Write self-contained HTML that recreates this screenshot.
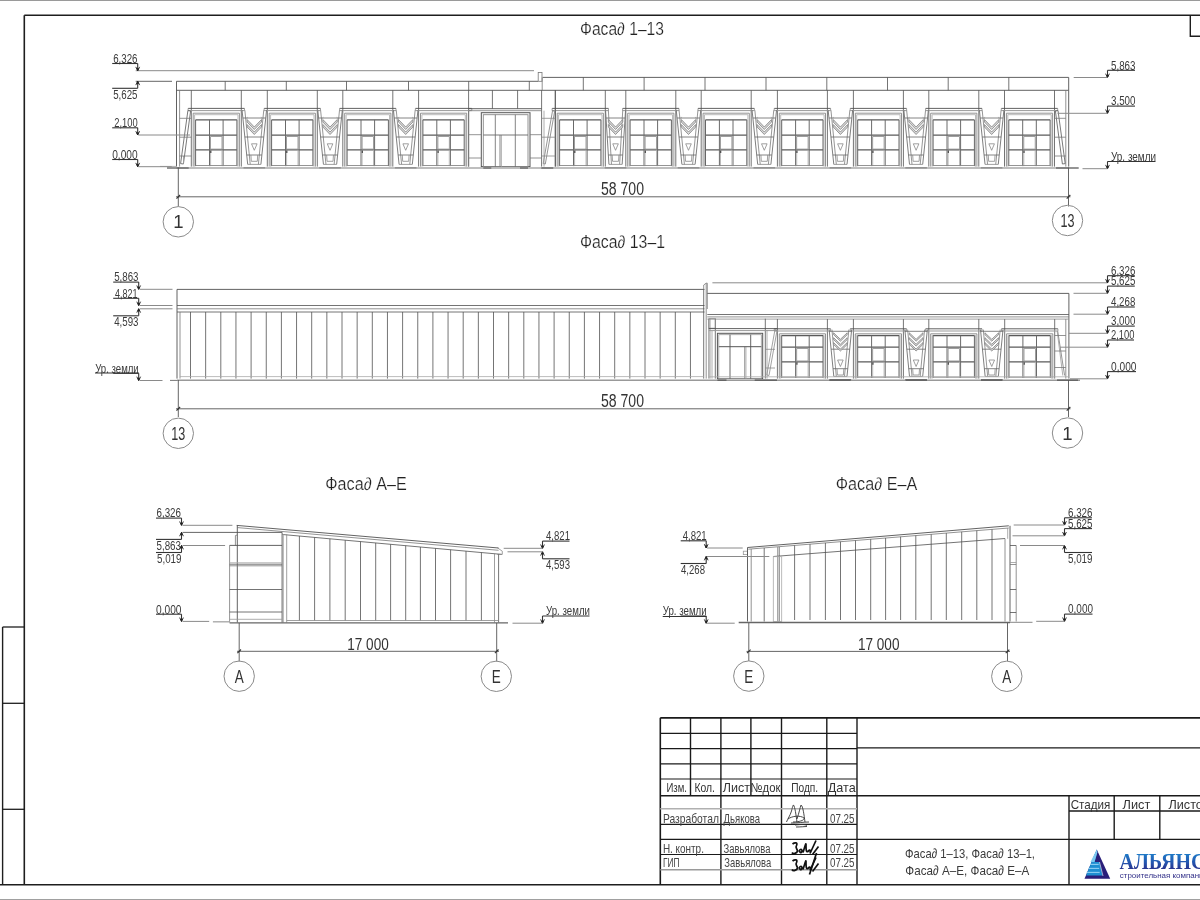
<!DOCTYPE html>
<html><head><meta charset="utf-8"><style>
html,body{margin:0;padding:0;background:#fff;width:1200px;height:900px;overflow:hidden}
svg{display:block;will-change:transform}
text{font-family:"Liberation Sans",sans-serif;}
.logo{font-family:"Liberation Serif",serif;stroke:none}
.logo2{stroke:none}
.thin{stroke:#fff;stroke-width:0.22px;paint-order:normal}
</style></head><body>
<svg width="1200" height="900" viewBox="0 0 1200 900">
<line x1="0.00" y1="0.50" x2="1200.00" y2="0.50" stroke="#9a9a9a" stroke-width="1.2"/>
<line x1="0.00" y1="899.50" x2="1200.00" y2="899.50" stroke="#a0a0a0" stroke-width="1.0"/>
<line x1="24.30" y1="15.30" x2="1200.00" y2="15.30" stroke="#1e1e1e" stroke-width="1.6"/>
<line x1="24.30" y1="15.30" x2="24.30" y2="884.70" stroke="#1e1e1e" stroke-width="1.6"/>
<line x1="0.00" y1="884.70" x2="1200.00" y2="884.70" stroke="#1e1e1e" stroke-width="1.6"/>
<polyline points="1190.30,15.30 1190.30,36.20 1200.00,36.20" fill="none" stroke="#1e1e1e" stroke-width="1.4"/>
<line x1="2.60" y1="627.00" x2="2.60" y2="884.70" stroke="#1e1e1e" stroke-width="1.4"/>
<line x1="2.60" y1="627.00" x2="24.30" y2="627.00" stroke="#1e1e1e" stroke-width="1.3"/>
<line x1="2.60" y1="703.30" x2="24.30" y2="703.30" stroke="#1e1e1e" stroke-width="1.3"/>
<line x1="2.60" y1="809.30" x2="24.30" y2="809.30" stroke="#1e1e1e" stroke-width="1.3"/>
<text x="622.00" y="35.00" font-size="17.5" fill="#222" text-anchor="middle" textLength="84.00" lengthAdjust="spacingAndGlyphs" class="thin">Фаса∂ 1–13</text>
<line x1="135.70" y1="70.70" x2="534.00" y2="70.70" stroke="#8a8a8a" stroke-width="1.0"/>
<line x1="135.70" y1="81.30" x2="172.00" y2="81.30" stroke="#555" stroke-width="0.9"/>
<line x1="176.50" y1="81.30" x2="538.00" y2="81.30" stroke="#505050" stroke-width="0.9"/>
<line x1="176.50" y1="90.30" x2="1068.70" y2="90.30" stroke="#505050" stroke-width="0.9"/>
<line x1="176.50" y1="81.30" x2="176.50" y2="166.60" stroke="#505050" stroke-width="0.9"/>
<line x1="542.60" y1="77.40" x2="1068.70" y2="77.40" stroke="#505050" stroke-width="0.9"/>
<line x1="1068.70" y1="77.40" x2="1068.70" y2="90.30" stroke="#505050" stroke-width="0.9"/>
<rect x="538.20" y="72.50" width="3.80" height="8.80" fill="none" stroke="#777" stroke-width="0.8"/>
<line x1="542.20" y1="77.40" x2="542.20" y2="90.30" stroke="#777" stroke-width="0.8"/>
<line x1="225.20" y1="81.30" x2="225.20" y2="90.30" stroke="#505050" stroke-width="0.8"/>
<line x1="286.30" y1="81.30" x2="286.30" y2="90.30" stroke="#505050" stroke-width="0.8"/>
<line x1="346.50" y1="81.30" x2="346.50" y2="90.30" stroke="#505050" stroke-width="0.8"/>
<line x1="408.50" y1="81.30" x2="408.50" y2="90.30" stroke="#505050" stroke-width="0.8"/>
<line x1="468.70" y1="81.30" x2="468.70" y2="90.30" stroke="#505050" stroke-width="0.8"/>
<line x1="529.30" y1="81.30" x2="529.30" y2="90.30" stroke="#505050" stroke-width="0.8"/>
<line x1="583.30" y1="77.40" x2="583.30" y2="90.30" stroke="#505050" stroke-width="0.8"/>
<line x1="644.10" y1="77.40" x2="644.10" y2="90.30" stroke="#505050" stroke-width="0.8"/>
<line x1="705.00" y1="77.40" x2="705.00" y2="90.30" stroke="#505050" stroke-width="0.8"/>
<line x1="766.00" y1="77.40" x2="766.00" y2="90.30" stroke="#505050" stroke-width="0.8"/>
<line x1="826.80" y1="77.40" x2="826.80" y2="90.30" stroke="#505050" stroke-width="0.8"/>
<line x1="887.50" y1="77.40" x2="887.50" y2="90.30" stroke="#505050" stroke-width="0.8"/>
<line x1="948.20" y1="77.40" x2="948.20" y2="90.30" stroke="#505050" stroke-width="0.8"/>
<line x1="1008.80" y1="77.40" x2="1008.80" y2="90.30" stroke="#505050" stroke-width="0.8"/>
<line x1="179.60" y1="90.30" x2="179.60" y2="166.60" stroke="#777" stroke-width="0.8"/>
<line x1="1065.80" y1="90.30" x2="1065.80" y2="166.60" stroke="#777" stroke-width="0.8"/>
<line x1="1068.70" y1="90.30" x2="1068.70" y2="166.60" stroke="#505050" stroke-width="0.9"/>
<line x1="191.30" y1="90.30" x2="191.30" y2="166.60" stroke="#505050" stroke-width="0.8"/>
<line x1="241.30" y1="90.30" x2="241.30" y2="166.60" stroke="#505050" stroke-width="0.8"/>
<line x1="188.10" y1="108.40" x2="244.50" y2="108.40" stroke="#505050" stroke-width="0.9"/>
<line x1="188.10" y1="108.40" x2="188.10" y2="110.60" stroke="#888" stroke-width="0.8"/>
<line x1="244.50" y1="108.40" x2="244.50" y2="110.60" stroke="#888" stroke-width="0.8"/>
<line x1="188.10" y1="110.60" x2="244.50" y2="110.60" stroke="#999" stroke-width="1.0"/>
<polyline points="193.20,166.60 193.20,113.20 239.40,113.20 239.40,166.60" fill="none" stroke="#888" stroke-width="0.9"/>
<polyline points="194.60,166.60 194.60,114.70 238.00,114.70 238.00,166.60" fill="none" stroke="#aaa" stroke-width="0.8"/>
<line x1="195.60" y1="119.80" x2="236.90" y2="119.80" stroke="#5a5a5a" stroke-width="1.25"/>
<line x1="195.60" y1="135.00" x2="236.90" y2="135.00" stroke="#5a5a5a" stroke-width="1.25"/>
<line x1="195.60" y1="149.90" x2="236.90" y2="149.90" stroke="#5a5a5a" stroke-width="1.25"/>
<line x1="195.60" y1="119.80" x2="195.60" y2="166.10" stroke="#666" stroke-width="1.0"/>
<line x1="236.90" y1="119.80" x2="236.90" y2="166.10" stroke="#666" stroke-width="1.0"/>
<line x1="209.50" y1="119.80" x2="209.50" y2="166.10" stroke="#6a6a6a" stroke-width="1.0"/>
<line x1="223.10" y1="119.80" x2="223.10" y2="166.10" stroke="#6a6a6a" stroke-width="1.0"/>
<rect x="210.60" y="136.60" width="11.40" height="12.50" fill="none" stroke="#888" stroke-width="0.8"/>
<line x1="210.60" y1="149.90" x2="210.60" y2="166.10" stroke="#aaa" stroke-width="0.8"/>
<line x1="222.00" y1="149.90" x2="222.00" y2="166.10" stroke="#aaa" stroke-width="0.8"/>
<line x1="195.60" y1="165.50" x2="236.90" y2="165.50" stroke="#888" stroke-width="0.9"/>
<line x1="210.80" y1="150.40" x2="210.80" y2="152.90" stroke="#444" stroke-width="1.2"/>
<line x1="267.30" y1="90.30" x2="267.30" y2="166.60" stroke="#505050" stroke-width="0.8"/>
<line x1="317.30" y1="90.30" x2="317.30" y2="166.60" stroke="#505050" stroke-width="0.8"/>
<line x1="264.10" y1="108.40" x2="320.50" y2="108.40" stroke="#505050" stroke-width="0.9"/>
<line x1="264.10" y1="108.40" x2="264.10" y2="110.60" stroke="#888" stroke-width="0.8"/>
<line x1="320.50" y1="108.40" x2="320.50" y2="110.60" stroke="#888" stroke-width="0.8"/>
<line x1="264.10" y1="110.60" x2="320.50" y2="110.60" stroke="#999" stroke-width="1.0"/>
<polyline points="269.20,166.60 269.20,113.20 315.40,113.20 315.40,166.60" fill="none" stroke="#888" stroke-width="0.9"/>
<polyline points="270.60,166.60 270.60,114.70 314.00,114.70 314.00,166.60" fill="none" stroke="#aaa" stroke-width="0.8"/>
<line x1="271.60" y1="119.80" x2="312.90" y2="119.80" stroke="#5a5a5a" stroke-width="1.25"/>
<line x1="271.60" y1="135.00" x2="312.90" y2="135.00" stroke="#5a5a5a" stroke-width="1.25"/>
<line x1="271.60" y1="149.90" x2="312.90" y2="149.90" stroke="#5a5a5a" stroke-width="1.25"/>
<line x1="271.60" y1="119.80" x2="271.60" y2="166.10" stroke="#666" stroke-width="1.0"/>
<line x1="312.90" y1="119.80" x2="312.90" y2="166.10" stroke="#666" stroke-width="1.0"/>
<line x1="285.50" y1="119.80" x2="285.50" y2="166.10" stroke="#6a6a6a" stroke-width="1.0"/>
<line x1="299.10" y1="119.80" x2="299.10" y2="166.10" stroke="#6a6a6a" stroke-width="1.0"/>
<rect x="286.60" y="136.60" width="11.40" height="12.50" fill="none" stroke="#888" stroke-width="0.8"/>
<line x1="286.60" y1="149.90" x2="286.60" y2="166.10" stroke="#aaa" stroke-width="0.8"/>
<line x1="298.00" y1="149.90" x2="298.00" y2="166.10" stroke="#aaa" stroke-width="0.8"/>
<line x1="271.60" y1="165.50" x2="312.90" y2="165.50" stroke="#888" stroke-width="0.9"/>
<line x1="286.80" y1="150.40" x2="286.80" y2="152.90" stroke="#444" stroke-width="1.2"/>
<line x1="342.80" y1="90.30" x2="342.80" y2="166.60" stroke="#505050" stroke-width="0.8"/>
<line x1="392.80" y1="90.30" x2="392.80" y2="166.60" stroke="#505050" stroke-width="0.8"/>
<line x1="339.60" y1="108.40" x2="396.00" y2="108.40" stroke="#505050" stroke-width="0.9"/>
<line x1="339.60" y1="108.40" x2="339.60" y2="110.60" stroke="#888" stroke-width="0.8"/>
<line x1="396.00" y1="108.40" x2="396.00" y2="110.60" stroke="#888" stroke-width="0.8"/>
<line x1="339.60" y1="110.60" x2="396.00" y2="110.60" stroke="#999" stroke-width="1.0"/>
<polyline points="344.70,166.60 344.70,113.20 390.90,113.20 390.90,166.60" fill="none" stroke="#888" stroke-width="0.9"/>
<polyline points="346.10,166.60 346.10,114.70 389.50,114.70 389.50,166.60" fill="none" stroke="#aaa" stroke-width="0.8"/>
<line x1="347.10" y1="119.80" x2="388.40" y2="119.80" stroke="#5a5a5a" stroke-width="1.25"/>
<line x1="347.10" y1="135.00" x2="388.40" y2="135.00" stroke="#5a5a5a" stroke-width="1.25"/>
<line x1="347.10" y1="149.90" x2="388.40" y2="149.90" stroke="#5a5a5a" stroke-width="1.25"/>
<line x1="347.10" y1="119.80" x2="347.10" y2="166.10" stroke="#666" stroke-width="1.0"/>
<line x1="388.40" y1="119.80" x2="388.40" y2="166.10" stroke="#666" stroke-width="1.0"/>
<line x1="361.00" y1="119.80" x2="361.00" y2="166.10" stroke="#6a6a6a" stroke-width="1.0"/>
<line x1="374.60" y1="119.80" x2="374.60" y2="166.10" stroke="#6a6a6a" stroke-width="1.0"/>
<rect x="362.10" y="136.60" width="11.40" height="12.50" fill="none" stroke="#888" stroke-width="0.8"/>
<line x1="362.10" y1="149.90" x2="362.10" y2="166.10" stroke="#aaa" stroke-width="0.8"/>
<line x1="373.50" y1="149.90" x2="373.50" y2="166.10" stroke="#aaa" stroke-width="0.8"/>
<line x1="347.10" y1="165.50" x2="388.40" y2="165.50" stroke="#888" stroke-width="0.9"/>
<line x1="362.30" y1="150.40" x2="362.30" y2="152.90" stroke="#444" stroke-width="1.2"/>
<line x1="418.60" y1="90.30" x2="418.60" y2="166.60" stroke="#505050" stroke-width="0.8"/>
<line x1="468.60" y1="90.30" x2="468.60" y2="166.60" stroke="#505050" stroke-width="0.8"/>
<line x1="415.40" y1="108.40" x2="471.80" y2="108.40" stroke="#505050" stroke-width="0.9"/>
<line x1="415.40" y1="108.40" x2="415.40" y2="110.60" stroke="#888" stroke-width="0.8"/>
<line x1="471.80" y1="108.40" x2="471.80" y2="110.60" stroke="#888" stroke-width="0.8"/>
<line x1="415.40" y1="110.60" x2="471.80" y2="110.60" stroke="#999" stroke-width="1.0"/>
<polyline points="420.50,166.60 420.50,113.20 466.70,113.20 466.70,166.60" fill="none" stroke="#888" stroke-width="0.9"/>
<polyline points="421.90,166.60 421.90,114.70 465.30,114.70 465.30,166.60" fill="none" stroke="#aaa" stroke-width="0.8"/>
<line x1="422.90" y1="119.80" x2="464.20" y2="119.80" stroke="#5a5a5a" stroke-width="1.25"/>
<line x1="422.90" y1="135.00" x2="464.20" y2="135.00" stroke="#5a5a5a" stroke-width="1.25"/>
<line x1="422.90" y1="149.90" x2="464.20" y2="149.90" stroke="#5a5a5a" stroke-width="1.25"/>
<line x1="422.90" y1="119.80" x2="422.90" y2="166.10" stroke="#666" stroke-width="1.0"/>
<line x1="464.20" y1="119.80" x2="464.20" y2="166.10" stroke="#666" stroke-width="1.0"/>
<line x1="436.80" y1="119.80" x2="436.80" y2="166.10" stroke="#6a6a6a" stroke-width="1.0"/>
<line x1="450.40" y1="119.80" x2="450.40" y2="166.10" stroke="#6a6a6a" stroke-width="1.0"/>
<rect x="437.90" y="136.60" width="11.40" height="12.50" fill="none" stroke="#888" stroke-width="0.8"/>
<line x1="437.90" y1="149.90" x2="437.90" y2="166.10" stroke="#aaa" stroke-width="0.8"/>
<line x1="449.30" y1="149.90" x2="449.30" y2="166.10" stroke="#aaa" stroke-width="0.8"/>
<line x1="422.90" y1="165.50" x2="464.20" y2="165.50" stroke="#888" stroke-width="0.9"/>
<line x1="438.10" y1="150.40" x2="438.10" y2="152.90" stroke="#444" stroke-width="1.2"/>
<line x1="555.30" y1="90.30" x2="555.30" y2="166.60" stroke="#505050" stroke-width="0.8"/>
<line x1="605.30" y1="90.30" x2="605.30" y2="166.60" stroke="#505050" stroke-width="0.8"/>
<line x1="552.10" y1="108.40" x2="608.50" y2="108.40" stroke="#505050" stroke-width="0.9"/>
<line x1="552.10" y1="108.40" x2="552.10" y2="110.60" stroke="#888" stroke-width="0.8"/>
<line x1="608.50" y1="108.40" x2="608.50" y2="110.60" stroke="#888" stroke-width="0.8"/>
<line x1="552.10" y1="110.60" x2="608.50" y2="110.60" stroke="#999" stroke-width="1.0"/>
<polyline points="557.20,166.60 557.20,113.20 603.40,113.20 603.40,166.60" fill="none" stroke="#888" stroke-width="0.9"/>
<polyline points="558.60,166.60 558.60,114.70 602.00,114.70 602.00,166.60" fill="none" stroke="#aaa" stroke-width="0.8"/>
<line x1="559.60" y1="119.80" x2="600.90" y2="119.80" stroke="#5a5a5a" stroke-width="1.25"/>
<line x1="559.60" y1="135.00" x2="600.90" y2="135.00" stroke="#5a5a5a" stroke-width="1.25"/>
<line x1="559.60" y1="149.90" x2="600.90" y2="149.90" stroke="#5a5a5a" stroke-width="1.25"/>
<line x1="559.60" y1="119.80" x2="559.60" y2="166.10" stroke="#666" stroke-width="1.0"/>
<line x1="600.90" y1="119.80" x2="600.90" y2="166.10" stroke="#666" stroke-width="1.0"/>
<line x1="573.50" y1="119.80" x2="573.50" y2="166.10" stroke="#6a6a6a" stroke-width="1.0"/>
<line x1="587.10" y1="119.80" x2="587.10" y2="166.10" stroke="#6a6a6a" stroke-width="1.0"/>
<rect x="574.60" y="136.60" width="11.40" height="12.50" fill="none" stroke="#888" stroke-width="0.8"/>
<line x1="574.60" y1="149.90" x2="574.60" y2="166.10" stroke="#aaa" stroke-width="0.8"/>
<line x1="586.00" y1="149.90" x2="586.00" y2="166.10" stroke="#aaa" stroke-width="0.8"/>
<line x1="559.60" y1="165.50" x2="600.90" y2="165.50" stroke="#888" stroke-width="0.9"/>
<line x1="574.80" y1="150.40" x2="574.80" y2="152.90" stroke="#444" stroke-width="1.2"/>
<line x1="625.80" y1="90.30" x2="625.80" y2="166.60" stroke="#505050" stroke-width="0.8"/>
<line x1="675.80" y1="90.30" x2="675.80" y2="166.60" stroke="#505050" stroke-width="0.8"/>
<line x1="622.60" y1="108.40" x2="679.00" y2="108.40" stroke="#505050" stroke-width="0.9"/>
<line x1="622.60" y1="108.40" x2="622.60" y2="110.60" stroke="#888" stroke-width="0.8"/>
<line x1="679.00" y1="108.40" x2="679.00" y2="110.60" stroke="#888" stroke-width="0.8"/>
<line x1="622.60" y1="110.60" x2="679.00" y2="110.60" stroke="#999" stroke-width="1.0"/>
<polyline points="627.70,166.60 627.70,113.20 673.90,113.20 673.90,166.60" fill="none" stroke="#888" stroke-width="0.9"/>
<polyline points="629.10,166.60 629.10,114.70 672.50,114.70 672.50,166.60" fill="none" stroke="#aaa" stroke-width="0.8"/>
<line x1="630.10" y1="119.80" x2="671.40" y2="119.80" stroke="#5a5a5a" stroke-width="1.25"/>
<line x1="630.10" y1="135.00" x2="671.40" y2="135.00" stroke="#5a5a5a" stroke-width="1.25"/>
<line x1="630.10" y1="149.90" x2="671.40" y2="149.90" stroke="#5a5a5a" stroke-width="1.25"/>
<line x1="630.10" y1="119.80" x2="630.10" y2="166.10" stroke="#666" stroke-width="1.0"/>
<line x1="671.40" y1="119.80" x2="671.40" y2="166.10" stroke="#666" stroke-width="1.0"/>
<line x1="644.00" y1="119.80" x2="644.00" y2="166.10" stroke="#6a6a6a" stroke-width="1.0"/>
<line x1="657.60" y1="119.80" x2="657.60" y2="166.10" stroke="#6a6a6a" stroke-width="1.0"/>
<rect x="645.10" y="136.60" width="11.40" height="12.50" fill="none" stroke="#888" stroke-width="0.8"/>
<line x1="645.10" y1="149.90" x2="645.10" y2="166.10" stroke="#aaa" stroke-width="0.8"/>
<line x1="656.50" y1="149.90" x2="656.50" y2="166.10" stroke="#aaa" stroke-width="0.8"/>
<line x1="630.10" y1="165.50" x2="671.40" y2="165.50" stroke="#888" stroke-width="0.9"/>
<line x1="645.30" y1="150.40" x2="645.30" y2="152.90" stroke="#444" stroke-width="1.2"/>
<line x1="701.20" y1="90.30" x2="701.20" y2="166.60" stroke="#505050" stroke-width="0.8"/>
<line x1="751.20" y1="90.30" x2="751.20" y2="166.60" stroke="#505050" stroke-width="0.8"/>
<line x1="698.00" y1="108.40" x2="754.40" y2="108.40" stroke="#505050" stroke-width="0.9"/>
<line x1="698.00" y1="108.40" x2="698.00" y2="110.60" stroke="#888" stroke-width="0.8"/>
<line x1="754.40" y1="108.40" x2="754.40" y2="110.60" stroke="#888" stroke-width="0.8"/>
<line x1="698.00" y1="110.60" x2="754.40" y2="110.60" stroke="#999" stroke-width="1.0"/>
<polyline points="703.10,166.60 703.10,113.20 749.30,113.20 749.30,166.60" fill="none" stroke="#888" stroke-width="0.9"/>
<polyline points="704.50,166.60 704.50,114.70 747.90,114.70 747.90,166.60" fill="none" stroke="#aaa" stroke-width="0.8"/>
<line x1="705.50" y1="119.80" x2="746.80" y2="119.80" stroke="#5a5a5a" stroke-width="1.25"/>
<line x1="705.50" y1="135.00" x2="746.80" y2="135.00" stroke="#5a5a5a" stroke-width="1.25"/>
<line x1="705.50" y1="149.90" x2="746.80" y2="149.90" stroke="#5a5a5a" stroke-width="1.25"/>
<line x1="705.50" y1="119.80" x2="705.50" y2="166.10" stroke="#666" stroke-width="1.0"/>
<line x1="746.80" y1="119.80" x2="746.80" y2="166.10" stroke="#666" stroke-width="1.0"/>
<line x1="719.40" y1="119.80" x2="719.40" y2="166.10" stroke="#6a6a6a" stroke-width="1.0"/>
<line x1="733.00" y1="119.80" x2="733.00" y2="166.10" stroke="#6a6a6a" stroke-width="1.0"/>
<rect x="720.50" y="136.60" width="11.40" height="12.50" fill="none" stroke="#888" stroke-width="0.8"/>
<line x1="720.50" y1="149.90" x2="720.50" y2="166.10" stroke="#aaa" stroke-width="0.8"/>
<line x1="731.90" y1="149.90" x2="731.90" y2="166.10" stroke="#aaa" stroke-width="0.8"/>
<line x1="705.50" y1="165.50" x2="746.80" y2="165.50" stroke="#888" stroke-width="0.9"/>
<line x1="720.70" y1="150.40" x2="720.70" y2="152.90" stroke="#444" stroke-width="1.2"/>
<line x1="777.40" y1="90.30" x2="777.40" y2="166.60" stroke="#505050" stroke-width="0.8"/>
<line x1="827.40" y1="90.30" x2="827.40" y2="166.60" stroke="#505050" stroke-width="0.8"/>
<line x1="774.20" y1="108.40" x2="830.60" y2="108.40" stroke="#505050" stroke-width="0.9"/>
<line x1="774.20" y1="108.40" x2="774.20" y2="110.60" stroke="#888" stroke-width="0.8"/>
<line x1="830.60" y1="108.40" x2="830.60" y2="110.60" stroke="#888" stroke-width="0.8"/>
<line x1="774.20" y1="110.60" x2="830.60" y2="110.60" stroke="#999" stroke-width="1.0"/>
<polyline points="779.30,166.60 779.30,113.20 825.50,113.20 825.50,166.60" fill="none" stroke="#888" stroke-width="0.9"/>
<polyline points="780.70,166.60 780.70,114.70 824.10,114.70 824.10,166.60" fill="none" stroke="#aaa" stroke-width="0.8"/>
<line x1="781.70" y1="119.80" x2="823.00" y2="119.80" stroke="#5a5a5a" stroke-width="1.25"/>
<line x1="781.70" y1="135.00" x2="823.00" y2="135.00" stroke="#5a5a5a" stroke-width="1.25"/>
<line x1="781.70" y1="149.90" x2="823.00" y2="149.90" stroke="#5a5a5a" stroke-width="1.25"/>
<line x1="781.70" y1="119.80" x2="781.70" y2="166.10" stroke="#666" stroke-width="1.0"/>
<line x1="823.00" y1="119.80" x2="823.00" y2="166.10" stroke="#666" stroke-width="1.0"/>
<line x1="795.60" y1="119.80" x2="795.60" y2="166.10" stroke="#6a6a6a" stroke-width="1.0"/>
<line x1="809.20" y1="119.80" x2="809.20" y2="166.10" stroke="#6a6a6a" stroke-width="1.0"/>
<rect x="796.70" y="136.60" width="11.40" height="12.50" fill="none" stroke="#888" stroke-width="0.8"/>
<line x1="796.70" y1="149.90" x2="796.70" y2="166.10" stroke="#aaa" stroke-width="0.8"/>
<line x1="808.10" y1="149.90" x2="808.10" y2="166.10" stroke="#aaa" stroke-width="0.8"/>
<line x1="781.70" y1="165.50" x2="823.00" y2="165.50" stroke="#888" stroke-width="0.9"/>
<line x1="796.90" y1="150.40" x2="796.90" y2="152.90" stroke="#444" stroke-width="1.2"/>
<line x1="853.40" y1="90.30" x2="853.40" y2="166.60" stroke="#505050" stroke-width="0.8"/>
<line x1="903.40" y1="90.30" x2="903.40" y2="166.60" stroke="#505050" stroke-width="0.8"/>
<line x1="850.20" y1="108.40" x2="906.60" y2="108.40" stroke="#505050" stroke-width="0.9"/>
<line x1="850.20" y1="108.40" x2="850.20" y2="110.60" stroke="#888" stroke-width="0.8"/>
<line x1="906.60" y1="108.40" x2="906.60" y2="110.60" stroke="#888" stroke-width="0.8"/>
<line x1="850.20" y1="110.60" x2="906.60" y2="110.60" stroke="#999" stroke-width="1.0"/>
<polyline points="855.30,166.60 855.30,113.20 901.50,113.20 901.50,166.60" fill="none" stroke="#888" stroke-width="0.9"/>
<polyline points="856.70,166.60 856.70,114.70 900.10,114.70 900.10,166.60" fill="none" stroke="#aaa" stroke-width="0.8"/>
<line x1="857.70" y1="119.80" x2="899.00" y2="119.80" stroke="#5a5a5a" stroke-width="1.25"/>
<line x1="857.70" y1="135.00" x2="899.00" y2="135.00" stroke="#5a5a5a" stroke-width="1.25"/>
<line x1="857.70" y1="149.90" x2="899.00" y2="149.90" stroke="#5a5a5a" stroke-width="1.25"/>
<line x1="857.70" y1="119.80" x2="857.70" y2="166.10" stroke="#666" stroke-width="1.0"/>
<line x1="899.00" y1="119.80" x2="899.00" y2="166.10" stroke="#666" stroke-width="1.0"/>
<line x1="871.60" y1="119.80" x2="871.60" y2="166.10" stroke="#6a6a6a" stroke-width="1.0"/>
<line x1="885.20" y1="119.80" x2="885.20" y2="166.10" stroke="#6a6a6a" stroke-width="1.0"/>
<rect x="872.70" y="136.60" width="11.40" height="12.50" fill="none" stroke="#888" stroke-width="0.8"/>
<line x1="872.70" y1="149.90" x2="872.70" y2="166.10" stroke="#aaa" stroke-width="0.8"/>
<line x1="884.10" y1="149.90" x2="884.10" y2="166.10" stroke="#aaa" stroke-width="0.8"/>
<line x1="857.70" y1="165.50" x2="899.00" y2="165.50" stroke="#888" stroke-width="0.9"/>
<line x1="872.90" y1="150.40" x2="872.90" y2="152.90" stroke="#444" stroke-width="1.2"/>
<line x1="928.80" y1="90.30" x2="928.80" y2="166.60" stroke="#505050" stroke-width="0.8"/>
<line x1="978.80" y1="90.30" x2="978.80" y2="166.60" stroke="#505050" stroke-width="0.8"/>
<line x1="925.60" y1="108.40" x2="982.00" y2="108.40" stroke="#505050" stroke-width="0.9"/>
<line x1="925.60" y1="108.40" x2="925.60" y2="110.60" stroke="#888" stroke-width="0.8"/>
<line x1="982.00" y1="108.40" x2="982.00" y2="110.60" stroke="#888" stroke-width="0.8"/>
<line x1="925.60" y1="110.60" x2="982.00" y2="110.60" stroke="#999" stroke-width="1.0"/>
<polyline points="930.70,166.60 930.70,113.20 976.90,113.20 976.90,166.60" fill="none" stroke="#888" stroke-width="0.9"/>
<polyline points="932.10,166.60 932.10,114.70 975.50,114.70 975.50,166.60" fill="none" stroke="#aaa" stroke-width="0.8"/>
<line x1="933.10" y1="119.80" x2="974.40" y2="119.80" stroke="#5a5a5a" stroke-width="1.25"/>
<line x1="933.10" y1="135.00" x2="974.40" y2="135.00" stroke="#5a5a5a" stroke-width="1.25"/>
<line x1="933.10" y1="149.90" x2="974.40" y2="149.90" stroke="#5a5a5a" stroke-width="1.25"/>
<line x1="933.10" y1="119.80" x2="933.10" y2="166.10" stroke="#666" stroke-width="1.0"/>
<line x1="974.40" y1="119.80" x2="974.40" y2="166.10" stroke="#666" stroke-width="1.0"/>
<line x1="947.00" y1="119.80" x2="947.00" y2="166.10" stroke="#6a6a6a" stroke-width="1.0"/>
<line x1="960.60" y1="119.80" x2="960.60" y2="166.10" stroke="#6a6a6a" stroke-width="1.0"/>
<rect x="948.10" y="136.60" width="11.40" height="12.50" fill="none" stroke="#888" stroke-width="0.8"/>
<line x1="948.10" y1="149.90" x2="948.10" y2="166.10" stroke="#aaa" stroke-width="0.8"/>
<line x1="959.50" y1="149.90" x2="959.50" y2="166.10" stroke="#aaa" stroke-width="0.8"/>
<line x1="933.10" y1="165.50" x2="974.40" y2="165.50" stroke="#888" stroke-width="0.9"/>
<line x1="948.30" y1="150.40" x2="948.30" y2="152.90" stroke="#444" stroke-width="1.2"/>
<line x1="1004.50" y1="90.30" x2="1004.50" y2="166.60" stroke="#505050" stroke-width="0.8"/>
<line x1="1054.50" y1="90.30" x2="1054.50" y2="166.60" stroke="#505050" stroke-width="0.8"/>
<line x1="1001.30" y1="108.40" x2="1057.70" y2="108.40" stroke="#505050" stroke-width="0.9"/>
<line x1="1001.30" y1="108.40" x2="1001.30" y2="110.60" stroke="#888" stroke-width="0.8"/>
<line x1="1057.70" y1="108.40" x2="1057.70" y2="110.60" stroke="#888" stroke-width="0.8"/>
<line x1="1001.30" y1="110.60" x2="1057.70" y2="110.60" stroke="#999" stroke-width="1.0"/>
<polyline points="1006.40,166.60 1006.40,113.20 1052.60,113.20 1052.60,166.60" fill="none" stroke="#888" stroke-width="0.9"/>
<polyline points="1007.80,166.60 1007.80,114.70 1051.20,114.70 1051.20,166.60" fill="none" stroke="#aaa" stroke-width="0.8"/>
<line x1="1008.80" y1="119.80" x2="1050.10" y2="119.80" stroke="#5a5a5a" stroke-width="1.25"/>
<line x1="1008.80" y1="135.00" x2="1050.10" y2="135.00" stroke="#5a5a5a" stroke-width="1.25"/>
<line x1="1008.80" y1="149.90" x2="1050.10" y2="149.90" stroke="#5a5a5a" stroke-width="1.25"/>
<line x1="1008.80" y1="119.80" x2="1008.80" y2="166.10" stroke="#666" stroke-width="1.0"/>
<line x1="1050.10" y1="119.80" x2="1050.10" y2="166.10" stroke="#666" stroke-width="1.0"/>
<line x1="1022.70" y1="119.80" x2="1022.70" y2="166.10" stroke="#6a6a6a" stroke-width="1.0"/>
<line x1="1036.30" y1="119.80" x2="1036.30" y2="166.10" stroke="#6a6a6a" stroke-width="1.0"/>
<rect x="1023.80" y="136.60" width="11.40" height="12.50" fill="none" stroke="#888" stroke-width="0.8"/>
<line x1="1023.80" y1="149.90" x2="1023.80" y2="166.10" stroke="#aaa" stroke-width="0.8"/>
<line x1="1035.20" y1="149.90" x2="1035.20" y2="166.10" stroke="#aaa" stroke-width="0.8"/>
<line x1="1008.80" y1="165.50" x2="1050.10" y2="165.50" stroke="#888" stroke-width="0.9"/>
<line x1="1024.00" y1="150.40" x2="1024.00" y2="152.90" stroke="#444" stroke-width="1.2"/>
<line x1="242.05" y1="110.20" x2="247.70" y2="164.40" stroke="#707070" stroke-width="0.9"/>
<line x1="266.55" y1="110.20" x2="260.90" y2="164.40" stroke="#707070" stroke-width="0.9"/>
<line x1="244.85" y1="110.20" x2="250.22" y2="164.40" stroke="#8a8a8a" stroke-width="0.9"/>
<line x1="263.75" y1="110.20" x2="258.38" y2="164.40" stroke="#8a8a8a" stroke-width="0.9"/>
<line x1="247.70" y1="164.40" x2="260.90" y2="164.40" stroke="#888" stroke-width="0.8"/>
<line x1="242.86" y1="118.00" x2="265.74" y2="118.00" stroke="#666" stroke-width="0.8"/>
<line x1="244.84" y1="137.00" x2="263.76" y2="137.00" stroke="#666" stroke-width="0.8"/>
<line x1="246.72" y1="155.00" x2="261.88" y2="155.00" stroke="#666" stroke-width="0.8"/>
<polygon points="247.10,119.50 254.30,127.00 261.50,119.50 261.50,122.00 254.30,129.50 247.10,122.00" fill="#d8d8d8" stroke="#808080" stroke-width="0.8"/>
<polygon points="247.10,124.50 254.30,132.00 261.50,124.50 261.50,127.00 254.30,134.50 247.10,127.00" fill="#d8d8d8" stroke="#808080" stroke-width="0.8"/>
<line x1="247.50" y1="116.90" x2="246.70" y2="118.90" stroke="#999" stroke-width="0.7"/>
<line x1="261.10" y1="116.90" x2="261.90" y2="118.90" stroke="#999" stroke-width="0.7"/>
<polygon points="251.50,143.80 254.30,150.30 257.10,143.80" fill="none" stroke="#888" stroke-width="0.8"/>
<polyline points="250.90,155.00 251.30,161.30 257.30,161.30 257.70,155.00" fill="none" stroke="#888" stroke-width="0.8"/>
<line x1="243.50" y1="167.80" x2="265.10" y2="167.80" stroke="#5a5a5a" stroke-width="1.6"/>
<line x1="317.80" y1="110.20" x2="323.45" y2="164.40" stroke="#707070" stroke-width="0.9"/>
<line x1="342.30" y1="110.20" x2="336.65" y2="164.40" stroke="#707070" stroke-width="0.9"/>
<line x1="320.60" y1="110.20" x2="325.97" y2="164.40" stroke="#8a8a8a" stroke-width="0.9"/>
<line x1="339.50" y1="110.20" x2="334.13" y2="164.40" stroke="#8a8a8a" stroke-width="0.9"/>
<line x1="323.45" y1="164.40" x2="336.65" y2="164.40" stroke="#888" stroke-width="0.8"/>
<line x1="318.61" y1="118.00" x2="341.49" y2="118.00" stroke="#666" stroke-width="0.8"/>
<line x1="320.59" y1="137.00" x2="339.51" y2="137.00" stroke="#666" stroke-width="0.8"/>
<line x1="322.47" y1="155.00" x2="337.63" y2="155.00" stroke="#666" stroke-width="0.8"/>
<polygon points="322.85,119.50 330.05,127.00 337.25,119.50 337.25,122.00 330.05,129.50 322.85,122.00" fill="#d8d8d8" stroke="#808080" stroke-width="0.8"/>
<polygon points="322.85,124.50 330.05,132.00 337.25,124.50 337.25,127.00 330.05,134.50 322.85,127.00" fill="#d8d8d8" stroke="#808080" stroke-width="0.8"/>
<line x1="323.25" y1="116.90" x2="322.45" y2="118.90" stroke="#999" stroke-width="0.7"/>
<line x1="336.85" y1="116.90" x2="337.65" y2="118.90" stroke="#999" stroke-width="0.7"/>
<polygon points="327.25,143.80 330.05,150.30 332.85,143.80" fill="none" stroke="#888" stroke-width="0.8"/>
<polyline points="326.65,155.00 327.05,161.30 333.05,161.30 333.45,155.00" fill="none" stroke="#888" stroke-width="0.8"/>
<line x1="319.25" y1="167.80" x2="340.85" y2="167.80" stroke="#5a5a5a" stroke-width="1.6"/>
<line x1="393.45" y1="110.20" x2="399.10" y2="164.40" stroke="#707070" stroke-width="0.9"/>
<line x1="417.95" y1="110.20" x2="412.30" y2="164.40" stroke="#707070" stroke-width="0.9"/>
<line x1="396.25" y1="110.20" x2="401.62" y2="164.40" stroke="#8a8a8a" stroke-width="0.9"/>
<line x1="415.15" y1="110.20" x2="409.78" y2="164.40" stroke="#8a8a8a" stroke-width="0.9"/>
<line x1="399.10" y1="164.40" x2="412.30" y2="164.40" stroke="#888" stroke-width="0.8"/>
<line x1="394.26" y1="118.00" x2="417.14" y2="118.00" stroke="#666" stroke-width="0.8"/>
<line x1="396.24" y1="137.00" x2="415.16" y2="137.00" stroke="#666" stroke-width="0.8"/>
<line x1="398.12" y1="155.00" x2="413.28" y2="155.00" stroke="#666" stroke-width="0.8"/>
<polygon points="398.50,119.50 405.70,127.00 412.90,119.50 412.90,122.00 405.70,129.50 398.50,122.00" fill="#d8d8d8" stroke="#808080" stroke-width="0.8"/>
<polygon points="398.50,124.50 405.70,132.00 412.90,124.50 412.90,127.00 405.70,134.50 398.50,127.00" fill="#d8d8d8" stroke="#808080" stroke-width="0.8"/>
<line x1="398.90" y1="116.90" x2="398.10" y2="118.90" stroke="#999" stroke-width="0.7"/>
<line x1="412.50" y1="116.90" x2="413.30" y2="118.90" stroke="#999" stroke-width="0.7"/>
<polygon points="402.90,143.80 405.70,150.30 408.50,143.80" fill="none" stroke="#888" stroke-width="0.8"/>
<polyline points="402.30,155.00 402.70,161.30 408.70,161.30 409.10,155.00" fill="none" stroke="#888" stroke-width="0.8"/>
<line x1="394.90" y1="167.80" x2="416.50" y2="167.80" stroke="#5a5a5a" stroke-width="1.6"/>
<line x1="605.55" y1="110.20" x2="608.95" y2="164.40" stroke="#707070" stroke-width="0.9"/>
<line x1="625.55" y1="110.20" x2="622.15" y2="164.40" stroke="#707070" stroke-width="0.9"/>
<line x1="608.35" y1="110.20" x2="611.47" y2="164.40" stroke="#8a8a8a" stroke-width="0.9"/>
<line x1="622.75" y1="110.20" x2="619.63" y2="164.40" stroke="#8a8a8a" stroke-width="0.9"/>
<line x1="608.95" y1="164.40" x2="622.15" y2="164.40" stroke="#888" stroke-width="0.8"/>
<line x1="606.04" y1="118.00" x2="625.06" y2="118.00" stroke="#666" stroke-width="0.8"/>
<line x1="607.23" y1="137.00" x2="623.87" y2="137.00" stroke="#666" stroke-width="0.8"/>
<line x1="608.36" y1="155.00" x2="622.74" y2="155.00" stroke="#666" stroke-width="0.8"/>
<polygon points="608.35,119.50 615.55,127.00 622.75,119.50 622.75,122.00 615.55,129.50 608.35,122.00" fill="#d8d8d8" stroke="#808080" stroke-width="0.8"/>
<polygon points="608.35,124.50 615.55,132.00 622.75,124.50 622.75,127.00 615.55,134.50 608.35,127.00" fill="#d8d8d8" stroke="#808080" stroke-width="0.8"/>
<line x1="608.75" y1="116.90" x2="607.95" y2="118.90" stroke="#999" stroke-width="0.7"/>
<line x1="622.35" y1="116.90" x2="623.15" y2="118.90" stroke="#999" stroke-width="0.7"/>
<polygon points="612.75,143.80 615.55,150.30 618.35,143.80" fill="none" stroke="#888" stroke-width="0.8"/>
<polyline points="612.15,155.00 612.55,161.30 618.55,161.30 618.95,155.00" fill="none" stroke="#888" stroke-width="0.8"/>
<line x1="604.75" y1="167.80" x2="626.35" y2="167.80" stroke="#5a5a5a" stroke-width="1.6"/>
<line x1="676.25" y1="110.20" x2="681.90" y2="164.40" stroke="#707070" stroke-width="0.9"/>
<line x1="700.75" y1="110.20" x2="695.10" y2="164.40" stroke="#707070" stroke-width="0.9"/>
<line x1="679.05" y1="110.20" x2="684.42" y2="164.40" stroke="#8a8a8a" stroke-width="0.9"/>
<line x1="697.95" y1="110.20" x2="692.58" y2="164.40" stroke="#8a8a8a" stroke-width="0.9"/>
<line x1="681.90" y1="164.40" x2="695.10" y2="164.40" stroke="#888" stroke-width="0.8"/>
<line x1="677.06" y1="118.00" x2="699.94" y2="118.00" stroke="#666" stroke-width="0.8"/>
<line x1="679.04" y1="137.00" x2="697.96" y2="137.00" stroke="#666" stroke-width="0.8"/>
<line x1="680.92" y1="155.00" x2="696.08" y2="155.00" stroke="#666" stroke-width="0.8"/>
<polygon points="681.30,119.50 688.50,127.00 695.70,119.50 695.70,122.00 688.50,129.50 681.30,122.00" fill="#d8d8d8" stroke="#808080" stroke-width="0.8"/>
<polygon points="681.30,124.50 688.50,132.00 695.70,124.50 695.70,127.00 688.50,134.50 681.30,127.00" fill="#d8d8d8" stroke="#808080" stroke-width="0.8"/>
<line x1="681.70" y1="116.90" x2="680.90" y2="118.90" stroke="#999" stroke-width="0.7"/>
<line x1="695.30" y1="116.90" x2="696.10" y2="118.90" stroke="#999" stroke-width="0.7"/>
<polygon points="685.70,143.80 688.50,150.30 691.30,143.80" fill="none" stroke="#888" stroke-width="0.8"/>
<polyline points="685.10,155.00 685.50,161.30 691.50,161.30 691.90,155.00" fill="none" stroke="#888" stroke-width="0.8"/>
<line x1="677.70" y1="167.80" x2="699.30" y2="167.80" stroke="#5a5a5a" stroke-width="1.6"/>
<line x1="752.05" y1="110.20" x2="757.70" y2="164.40" stroke="#707070" stroke-width="0.9"/>
<line x1="776.55" y1="110.20" x2="770.90" y2="164.40" stroke="#707070" stroke-width="0.9"/>
<line x1="754.85" y1="110.20" x2="760.22" y2="164.40" stroke="#8a8a8a" stroke-width="0.9"/>
<line x1="773.75" y1="110.20" x2="768.38" y2="164.40" stroke="#8a8a8a" stroke-width="0.9"/>
<line x1="757.70" y1="164.40" x2="770.90" y2="164.40" stroke="#888" stroke-width="0.8"/>
<line x1="752.86" y1="118.00" x2="775.74" y2="118.00" stroke="#666" stroke-width="0.8"/>
<line x1="754.84" y1="137.00" x2="773.76" y2="137.00" stroke="#666" stroke-width="0.8"/>
<line x1="756.72" y1="155.00" x2="771.88" y2="155.00" stroke="#666" stroke-width="0.8"/>
<polygon points="757.10,119.50 764.30,127.00 771.50,119.50 771.50,122.00 764.30,129.50 757.10,122.00" fill="#d8d8d8" stroke="#808080" stroke-width="0.8"/>
<polygon points="757.10,124.50 764.30,132.00 771.50,124.50 771.50,127.00 764.30,134.50 757.10,127.00" fill="#d8d8d8" stroke="#808080" stroke-width="0.8"/>
<line x1="757.50" y1="116.90" x2="756.70" y2="118.90" stroke="#999" stroke-width="0.7"/>
<line x1="771.10" y1="116.90" x2="771.90" y2="118.90" stroke="#999" stroke-width="0.7"/>
<polygon points="761.50,143.80 764.30,150.30 767.10,143.80" fill="none" stroke="#888" stroke-width="0.8"/>
<polyline points="760.90,155.00 761.30,161.30 767.30,161.30 767.70,155.00" fill="none" stroke="#888" stroke-width="0.8"/>
<line x1="753.50" y1="167.80" x2="775.10" y2="167.80" stroke="#5a5a5a" stroke-width="1.6"/>
<line x1="828.15" y1="110.20" x2="833.80" y2="164.40" stroke="#707070" stroke-width="0.9"/>
<line x1="852.65" y1="110.20" x2="847.00" y2="164.40" stroke="#707070" stroke-width="0.9"/>
<line x1="830.95" y1="110.20" x2="836.32" y2="164.40" stroke="#8a8a8a" stroke-width="0.9"/>
<line x1="849.85" y1="110.20" x2="844.48" y2="164.40" stroke="#8a8a8a" stroke-width="0.9"/>
<line x1="833.80" y1="164.40" x2="847.00" y2="164.40" stroke="#888" stroke-width="0.8"/>
<line x1="828.96" y1="118.00" x2="851.84" y2="118.00" stroke="#666" stroke-width="0.8"/>
<line x1="830.94" y1="137.00" x2="849.86" y2="137.00" stroke="#666" stroke-width="0.8"/>
<line x1="832.82" y1="155.00" x2="847.98" y2="155.00" stroke="#666" stroke-width="0.8"/>
<polygon points="833.20,119.50 840.40,127.00 847.60,119.50 847.60,122.00 840.40,129.50 833.20,122.00" fill="#d8d8d8" stroke="#808080" stroke-width="0.8"/>
<polygon points="833.20,124.50 840.40,132.00 847.60,124.50 847.60,127.00 840.40,134.50 833.20,127.00" fill="#d8d8d8" stroke="#808080" stroke-width="0.8"/>
<line x1="833.60" y1="116.90" x2="832.80" y2="118.90" stroke="#999" stroke-width="0.7"/>
<line x1="847.20" y1="116.90" x2="848.00" y2="118.90" stroke="#999" stroke-width="0.7"/>
<polygon points="837.60,143.80 840.40,150.30 843.20,143.80" fill="none" stroke="#888" stroke-width="0.8"/>
<polyline points="837.00,155.00 837.40,161.30 843.40,161.30 843.80,155.00" fill="none" stroke="#888" stroke-width="0.8"/>
<line x1="829.60" y1="167.80" x2="851.20" y2="167.80" stroke="#5a5a5a" stroke-width="1.6"/>
<line x1="903.85" y1="110.20" x2="909.50" y2="164.40" stroke="#707070" stroke-width="0.9"/>
<line x1="928.35" y1="110.20" x2="922.70" y2="164.40" stroke="#707070" stroke-width="0.9"/>
<line x1="906.65" y1="110.20" x2="912.02" y2="164.40" stroke="#8a8a8a" stroke-width="0.9"/>
<line x1="925.55" y1="110.20" x2="920.18" y2="164.40" stroke="#8a8a8a" stroke-width="0.9"/>
<line x1="909.50" y1="164.40" x2="922.70" y2="164.40" stroke="#888" stroke-width="0.8"/>
<line x1="904.66" y1="118.00" x2="927.54" y2="118.00" stroke="#666" stroke-width="0.8"/>
<line x1="906.64" y1="137.00" x2="925.56" y2="137.00" stroke="#666" stroke-width="0.8"/>
<line x1="908.52" y1="155.00" x2="923.68" y2="155.00" stroke="#666" stroke-width="0.8"/>
<polygon points="908.90,119.50 916.10,127.00 923.30,119.50 923.30,122.00 916.10,129.50 908.90,122.00" fill="#d8d8d8" stroke="#808080" stroke-width="0.8"/>
<polygon points="908.90,124.50 916.10,132.00 923.30,124.50 923.30,127.00 916.10,134.50 908.90,127.00" fill="#d8d8d8" stroke="#808080" stroke-width="0.8"/>
<line x1="909.30" y1="116.90" x2="908.50" y2="118.90" stroke="#999" stroke-width="0.7"/>
<line x1="922.90" y1="116.90" x2="923.70" y2="118.90" stroke="#999" stroke-width="0.7"/>
<polygon points="913.30,143.80 916.10,150.30 918.90,143.80" fill="none" stroke="#888" stroke-width="0.8"/>
<polyline points="912.70,155.00 913.10,161.30 919.10,161.30 919.50,155.00" fill="none" stroke="#888" stroke-width="0.8"/>
<line x1="905.30" y1="167.80" x2="926.90" y2="167.80" stroke="#5a5a5a" stroke-width="1.6"/>
<line x1="979.40" y1="110.20" x2="985.05" y2="164.40" stroke="#707070" stroke-width="0.9"/>
<line x1="1003.90" y1="110.20" x2="998.25" y2="164.40" stroke="#707070" stroke-width="0.9"/>
<line x1="982.20" y1="110.20" x2="987.57" y2="164.40" stroke="#8a8a8a" stroke-width="0.9"/>
<line x1="1001.10" y1="110.20" x2="995.73" y2="164.40" stroke="#8a8a8a" stroke-width="0.9"/>
<line x1="985.05" y1="164.40" x2="998.25" y2="164.40" stroke="#888" stroke-width="0.8"/>
<line x1="980.21" y1="118.00" x2="1003.09" y2="118.00" stroke="#666" stroke-width="0.8"/>
<line x1="982.19" y1="137.00" x2="1001.11" y2="137.00" stroke="#666" stroke-width="0.8"/>
<line x1="984.07" y1="155.00" x2="999.23" y2="155.00" stroke="#666" stroke-width="0.8"/>
<polygon points="984.45,119.50 991.65,127.00 998.85,119.50 998.85,122.00 991.65,129.50 984.45,122.00" fill="#d8d8d8" stroke="#808080" stroke-width="0.8"/>
<polygon points="984.45,124.50 991.65,132.00 998.85,124.50 998.85,127.00 991.65,134.50 984.45,127.00" fill="#d8d8d8" stroke="#808080" stroke-width="0.8"/>
<line x1="984.85" y1="116.90" x2="984.05" y2="118.90" stroke="#999" stroke-width="0.7"/>
<line x1="998.45" y1="116.90" x2="999.25" y2="118.90" stroke="#999" stroke-width="0.7"/>
<polygon points="988.85,143.80 991.65,150.30 994.45,143.80" fill="none" stroke="#888" stroke-width="0.8"/>
<polyline points="988.25,155.00 988.65,161.30 994.65,161.30 995.05,155.00" fill="none" stroke="#888" stroke-width="0.8"/>
<line x1="980.85" y1="167.80" x2="1002.45" y2="167.80" stroke="#5a5a5a" stroke-width="1.6"/>
<polygon points="187.90,110.50 190.60,111.00 183.40,164.00 180.60,163.60" fill="none" stroke="#6a6a6a" stroke-width="0.9"/>
<line x1="183.50" y1="156.00" x2="183.50" y2="164.00" stroke="#999" stroke-width="0.8"/>
<line x1="179.60" y1="118.30" x2="191.30" y2="118.30" stroke="#777" stroke-width="0.8"/>
<line x1="179.60" y1="137.20" x2="191.30" y2="137.20" stroke="#777" stroke-width="0.8"/>
<line x1="179.60" y1="156.00" x2="191.30" y2="156.00" stroke="#777" stroke-width="0.8"/>
<polygon points="1058.00,110.50 1055.40,111.00 1062.40,164.00 1065.20,163.60" fill="none" stroke="#6a6a6a" stroke-width="0.9"/>
<line x1="1054.50" y1="118.30" x2="1065.80" y2="118.30" stroke="#777" stroke-width="0.8"/>
<line x1="1054.50" y1="137.20" x2="1065.80" y2="137.20" stroke="#777" stroke-width="0.8"/>
<line x1="1054.50" y1="156.00" x2="1065.80" y2="156.00" stroke="#777" stroke-width="0.8"/>
<line x1="492.40" y1="90.30" x2="492.40" y2="108.70" stroke="#505050" stroke-width="0.8"/>
<line x1="517.60" y1="90.30" x2="517.60" y2="108.70" stroke="#505050" stroke-width="0.8"/>
<line x1="541.60" y1="90.30" x2="541.60" y2="166.60" stroke="#505050" stroke-width="0.8"/>
<line x1="555.30" y1="90.30" x2="555.30" y2="166.60" stroke="#505050" stroke-width="0.8"/>
<line x1="468.70" y1="108.70" x2="541.60" y2="108.70" stroke="#505050" stroke-width="0.9"/>
<line x1="468.70" y1="110.70" x2="541.60" y2="110.70" stroke="#777" stroke-width="0.8"/>
<rect x="481.30" y="112.70" width="48.70" height="53.90" fill="none" stroke="#555" stroke-width="1.0"/>
<rect x="483.30" y="114.70" width="44.70" height="51.90" fill="none" stroke="#888" stroke-width="0.9"/>
<line x1="495.30" y1="114.70" x2="495.30" y2="166.60" stroke="#666" stroke-width="0.8"/>
<line x1="515.30" y1="114.70" x2="515.30" y2="166.60" stroke="#666" stroke-width="0.8"/>
<line x1="500.00" y1="135.00" x2="500.00" y2="166.60" stroke="#777" stroke-width="0.9"/>
<line x1="501.50" y1="135.00" x2="501.50" y2="166.60" stroke="#aaa" stroke-width="0.8"/>
<line x1="483.30" y1="135.00" x2="528.00" y2="135.00" stroke="#666" stroke-width="0.9"/>
<line x1="468.70" y1="134.70" x2="481.30" y2="134.70" stroke="#777" stroke-width="0.8"/>
<line x1="530.00" y1="134.70" x2="541.60" y2="134.70" stroke="#777" stroke-width="0.8"/>
<line x1="468.70" y1="158.00" x2="481.30" y2="158.00" stroke="#777" stroke-width="0.8"/>
<line x1="530.00" y1="158.00" x2="541.60" y2="158.00" stroke="#777" stroke-width="0.8"/>
<line x1="468.70" y1="110.70" x2="468.70" y2="166.60" stroke="#777" stroke-width="0.8"/>
<polygon points="552.60,110.50 554.60,111.50 545.30,164.00 543.20,163.60" fill="none" stroke="#7a7a7a" stroke-width="0.8"/>
<line x1="544.00" y1="110.70" x2="544.00" y2="166.60" stroke="#999" stroke-width="0.8"/>
<line x1="541.60" y1="118.30" x2="555.30" y2="118.30" stroke="#888" stroke-width="0.8"/>
<line x1="541.60" y1="137.20" x2="555.30" y2="137.20" stroke="#888" stroke-width="0.8"/>
<line x1="541.60" y1="156.00" x2="555.30" y2="156.00" stroke="#888" stroke-width="0.8"/>
<line x1="176.50" y1="168.00" x2="1068.70" y2="168.00" stroke="#a8a8a8" stroke-width="1.3"/>
<line x1="160.00" y1="166.40" x2="176.50" y2="166.40" stroke="#b0b0b0" stroke-width="1.0"/>
<line x1="167.00" y1="168.00" x2="188.70" y2="168.00" stroke="#707070" stroke-width="1.5"/>
<line x1="1056.00" y1="168.00" x2="1078.70" y2="168.00" stroke="#707070" stroke-width="1.5"/>
<line x1="483.30" y1="168.00" x2="491.30" y2="168.00" stroke="#707070" stroke-width="1.5"/>
<line x1="520.00" y1="168.00" x2="528.00" y2="168.00" stroke="#707070" stroke-width="1.5"/>
<line x1="541.30" y1="168.00" x2="553.30" y2="168.00" stroke="#707070" stroke-width="1.5"/>
<line x1="112.20" y1="63.50" x2="137.70" y2="63.50" stroke="#333" stroke-width="1.1"/>
<line x1="137.70" y1="63.50" x2="137.70" y2="70.70" stroke="#333" stroke-width="1.1"/>
<polyline points="135.80,66.90 137.70,70.70 139.60,66.90" fill="none" stroke="#222" stroke-width="0.9"/>
<polygon points="136.70,68.50 137.70,70.70 138.70,68.50" fill="#222" stroke="#222" stroke-width="0.6"/>
<text x="113.20" y="62.80" font-size="13" fill="#3a3a3a" text-anchor="start" textLength="24.30" lengthAdjust="spacingAndGlyphs">6,326</text>
<line x1="112.20" y1="88.30" x2="137.70" y2="88.30" stroke="#333" stroke-width="1.1"/>
<line x1="137.70" y1="88.30" x2="137.70" y2="81.30" stroke="#333" stroke-width="1.1"/>
<polyline points="135.80,85.10 137.70,81.30 139.60,85.10" fill="none" stroke="#222" stroke-width="0.9"/>
<polygon points="136.70,83.50 137.70,81.30 138.70,83.50" fill="#222" stroke="#222" stroke-width="0.6"/>
<text x="113.20" y="98.90" font-size="13" fill="#3a3a3a" text-anchor="start" textLength="24.30" lengthAdjust="spacingAndGlyphs">5,625</text>
<line x1="112.20" y1="127.80" x2="137.70" y2="127.80" stroke="#333" stroke-width="1.1"/>
<line x1="137.70" y1="127.80" x2="137.70" y2="135.00" stroke="#333" stroke-width="1.1"/>
<polyline points="135.80,131.20 137.70,135.00 139.60,131.20" fill="none" stroke="#222" stroke-width="0.9"/>
<polygon points="136.70,132.80 137.70,135.00 138.70,132.80" fill="#222" stroke="#222" stroke-width="0.6"/>
<text x="114.20" y="127.10" font-size="13" fill="#3a3a3a" text-anchor="start" textLength="23.50" lengthAdjust="spacingAndGlyphs">2,100</text>
<line x1="138.30" y1="135.00" x2="190.00" y2="135.00" stroke="#8a8a8a" stroke-width="1.0"/>
<line x1="112.20" y1="159.50" x2="137.70" y2="159.50" stroke="#333" stroke-width="1.1"/>
<line x1="137.70" y1="159.50" x2="137.70" y2="166.70" stroke="#333" stroke-width="1.1"/>
<polyline points="135.80,162.90 137.70,166.70 139.60,162.90" fill="none" stroke="#222" stroke-width="0.9"/>
<polygon points="136.70,164.50 137.70,166.70 138.70,164.50" fill="#222" stroke="#222" stroke-width="0.6"/>
<text x="112.20" y="158.80" font-size="13" fill="#3a3a3a" text-anchor="start" textLength="25.50" lengthAdjust="spacingAndGlyphs">0,000</text>
<line x1="138.30" y1="166.70" x2="171.70" y2="166.70" stroke="#8a8a8a" stroke-width="1.0"/>
<line x1="1107.50" y1="70.30" x2="1135.00" y2="70.30" stroke="#333" stroke-width="1.1"/>
<line x1="1107.50" y1="70.30" x2="1107.50" y2="77.50" stroke="#333" stroke-width="1.1"/>
<polyline points="1105.60,73.70 1107.50,77.50 1109.40,73.70" fill="none" stroke="#222" stroke-width="0.9"/>
<polygon points="1106.50,75.30 1107.50,77.50 1108.50,75.30" fill="#222" stroke="#222" stroke-width="0.6"/>
<text x="1111.00" y="69.60" font-size="13" fill="#3a3a3a" text-anchor="start" textLength="24.50" lengthAdjust="spacingAndGlyphs">5,863</text>
<line x1="1073.70" y1="77.50" x2="1107.50" y2="77.50" stroke="#8a8a8a" stroke-width="1.0"/>
<line x1="1107.50" y1="106.10" x2="1135.00" y2="106.10" stroke="#333" stroke-width="1.1"/>
<line x1="1107.50" y1="106.10" x2="1107.50" y2="113.30" stroke="#333" stroke-width="1.1"/>
<polyline points="1105.60,109.50 1107.50,113.30 1109.40,109.50" fill="none" stroke="#222" stroke-width="0.9"/>
<polygon points="1106.50,111.10 1107.50,113.30 1108.50,111.10" fill="#222" stroke="#222" stroke-width="0.6"/>
<text x="1111.00" y="105.40" font-size="13" fill="#3a3a3a" text-anchor="start" textLength="24.50" lengthAdjust="spacingAndGlyphs">3,500</text>
<line x1="1057.50" y1="113.30" x2="1107.50" y2="113.30" stroke="#8a8a8a" stroke-width="1.0"/>
<line x1="1107.50" y1="161.50" x2="1155.50" y2="161.50" stroke="#333" stroke-width="1.1"/>
<line x1="1107.50" y1="161.50" x2="1107.50" y2="168.70" stroke="#333" stroke-width="1.1"/>
<polyline points="1105.60,164.90 1107.50,168.70 1109.40,164.90" fill="none" stroke="#222" stroke-width="0.9"/>
<polygon points="1106.50,166.50 1107.50,168.70 1108.50,166.50" fill="#222" stroke="#222" stroke-width="0.6"/>
<text x="1111.00" y="160.80" font-size="13" fill="#3a3a3a" text-anchor="start" textLength="45.00" lengthAdjust="spacingAndGlyphs">Ур. земли</text>
<line x1="1082.50" y1="168.70" x2="1107.50" y2="168.70" stroke="#8a8a8a" stroke-width="1.0"/>
<line x1="178.30" y1="167.50" x2="178.30" y2="206.50" stroke="#555" stroke-width="0.9"/>
<line x1="1068.50" y1="167.50" x2="1068.50" y2="206.50" stroke="#555" stroke-width="0.9"/>
<line x1="176.00" y1="196.80" x2="1070.50" y2="196.80" stroke="#555" stroke-width="0.9"/>
<line x1="176.50" y1="198.60" x2="180.10" y2="195.00" stroke="#333" stroke-width="1.1"/>
<line x1="1066.70" y1="198.60" x2="1070.30" y2="195.00" stroke="#333" stroke-width="1.1"/>
<text x="622.50" y="195.00" font-size="17.5" fill="#333" text-anchor="middle" textLength="43.00" lengthAdjust="spacingAndGlyphs">58 700</text>
<circle cx="178.30" cy="221.80" r="15.2" fill="none" stroke="#8a8a8a" stroke-width="1.0"/>
<text x="178.30" y="228.40" font-size="18.5" fill="#333" text-anchor="middle">1</text>
<circle cx="1067.50" cy="220.50" r="15.2" fill="none" stroke="#8a8a8a" stroke-width="1.0"/>
<text x="1067.50" y="227.10" font-size="18.5" fill="#333" text-anchor="middle" textLength="14.00" lengthAdjust="spacingAndGlyphs">13</text>
<text x="622.50" y="247.50" font-size="17.5" fill="#222" text-anchor="middle" textLength="85.00" lengthAdjust="spacingAndGlyphs" class="thin">Фаса∂ 13–1</text>
<line x1="177.00" y1="289.40" x2="704.50" y2="289.40" stroke="#505050" stroke-width="0.9"/>
<line x1="177.00" y1="289.40" x2="177.00" y2="378.60" stroke="#505050" stroke-width="0.9"/>
<line x1="177.00" y1="305.50" x2="704.50" y2="305.50" stroke="#505050" stroke-width="0.8"/>
<line x1="177.00" y1="308.80" x2="704.50" y2="308.80" stroke="#777" stroke-width="0.8"/>
<line x1="177.00" y1="312.00" x2="704.50" y2="312.00" stroke="#505050" stroke-width="0.8"/>
<line x1="180.00" y1="312.00" x2="180.00" y2="378.60" stroke="#777" stroke-width="0.8"/>
<line x1="190.50" y1="312.00" x2="190.50" y2="378.60" stroke="#505050" stroke-width="0.8"/>
<line x1="205.65" y1="312.00" x2="205.65" y2="378.60" stroke="#505050" stroke-width="0.8"/>
<line x1="220.80" y1="312.00" x2="220.80" y2="378.60" stroke="#505050" stroke-width="0.8"/>
<line x1="235.95" y1="312.00" x2="235.95" y2="378.60" stroke="#505050" stroke-width="0.8"/>
<line x1="251.10" y1="312.00" x2="251.10" y2="378.60" stroke="#505050" stroke-width="0.8"/>
<line x1="266.25" y1="312.00" x2="266.25" y2="378.60" stroke="#505050" stroke-width="0.8"/>
<line x1="281.40" y1="312.00" x2="281.40" y2="378.60" stroke="#505050" stroke-width="0.8"/>
<line x1="296.55" y1="312.00" x2="296.55" y2="378.60" stroke="#505050" stroke-width="0.8"/>
<line x1="311.70" y1="312.00" x2="311.70" y2="378.60" stroke="#505050" stroke-width="0.8"/>
<line x1="326.85" y1="312.00" x2="326.85" y2="378.60" stroke="#505050" stroke-width="0.8"/>
<line x1="342.00" y1="312.00" x2="342.00" y2="378.60" stroke="#505050" stroke-width="0.8"/>
<line x1="357.15" y1="312.00" x2="357.15" y2="378.60" stroke="#505050" stroke-width="0.8"/>
<line x1="372.30" y1="312.00" x2="372.30" y2="378.60" stroke="#505050" stroke-width="0.8"/>
<line x1="387.45" y1="312.00" x2="387.45" y2="378.60" stroke="#505050" stroke-width="0.8"/>
<line x1="402.60" y1="312.00" x2="402.60" y2="378.60" stroke="#505050" stroke-width="0.8"/>
<line x1="417.75" y1="312.00" x2="417.75" y2="378.60" stroke="#505050" stroke-width="0.8"/>
<line x1="432.90" y1="312.00" x2="432.90" y2="378.60" stroke="#505050" stroke-width="0.8"/>
<line x1="448.05" y1="312.00" x2="448.05" y2="378.60" stroke="#505050" stroke-width="0.8"/>
<line x1="463.20" y1="312.00" x2="463.20" y2="378.60" stroke="#505050" stroke-width="0.8"/>
<line x1="478.35" y1="312.00" x2="478.35" y2="378.60" stroke="#505050" stroke-width="0.8"/>
<line x1="493.50" y1="312.00" x2="493.50" y2="378.60" stroke="#505050" stroke-width="0.8"/>
<line x1="508.65" y1="312.00" x2="508.65" y2="378.60" stroke="#505050" stroke-width="0.8"/>
<line x1="523.80" y1="312.00" x2="523.80" y2="378.60" stroke="#505050" stroke-width="0.8"/>
<line x1="538.95" y1="312.00" x2="538.95" y2="378.60" stroke="#505050" stroke-width="0.8"/>
<line x1="554.10" y1="312.00" x2="554.10" y2="378.60" stroke="#505050" stroke-width="0.8"/>
<line x1="569.25" y1="312.00" x2="569.25" y2="378.60" stroke="#505050" stroke-width="0.8"/>
<line x1="584.40" y1="312.00" x2="584.40" y2="378.60" stroke="#505050" stroke-width="0.8"/>
<line x1="599.55" y1="312.00" x2="599.55" y2="378.60" stroke="#505050" stroke-width="0.8"/>
<line x1="614.70" y1="312.00" x2="614.70" y2="378.60" stroke="#505050" stroke-width="0.8"/>
<line x1="629.85" y1="312.00" x2="629.85" y2="378.60" stroke="#505050" stroke-width="0.8"/>
<line x1="645.00" y1="312.00" x2="645.00" y2="378.60" stroke="#505050" stroke-width="0.8"/>
<line x1="660.15" y1="312.00" x2="660.15" y2="378.60" stroke="#505050" stroke-width="0.8"/>
<line x1="675.30" y1="312.00" x2="675.30" y2="378.60" stroke="#505050" stroke-width="0.8"/>
<line x1="690.45" y1="312.00" x2="690.45" y2="378.60" stroke="#505050" stroke-width="0.8"/>
<line x1="703.70" y1="289.40" x2="703.70" y2="378.60" stroke="#505050" stroke-width="0.8"/>
<line x1="706.20" y1="283.20" x2="706.20" y2="378.60" stroke="#777" stroke-width="0.8"/>
<polyline points="703.70,289.40 703.70,285.00 706.20,283.20 707.30,283.20 707.30,309.00" fill="none" stroke="#777" stroke-width="0.8"/>
<line x1="712.40" y1="282.80" x2="1107.50" y2="282.80" stroke="#8a8a8a" stroke-width="1.0"/>
<line x1="707.30" y1="293.40" x2="1068.90" y2="293.40" stroke="#505050" stroke-width="0.9"/>
<line x1="1068.90" y1="293.40" x2="1068.90" y2="378.60" stroke="#505050" stroke-width="0.9"/>
<line x1="707.30" y1="314.50" x2="1068.90" y2="314.50" stroke="#505050" stroke-width="0.8"/>
<line x1="707.30" y1="316.90" x2="1068.90" y2="316.90" stroke="#777" stroke-width="0.8"/>
<line x1="707.30" y1="319.10" x2="1068.90" y2="319.10" stroke="#888" stroke-width="0.8"/>
<line x1="1065.80" y1="319.10" x2="1065.80" y2="378.60" stroke="#777" stroke-width="0.8"/>
<line x1="708.80" y1="319.10" x2="708.80" y2="378.60" stroke="#777" stroke-width="0.8"/>
<line x1="777.40" y1="319.10" x2="777.40" y2="378.60" stroke="#505050" stroke-width="0.8"/>
<line x1="827.40" y1="319.10" x2="827.40" y2="378.60" stroke="#505050" stroke-width="0.8"/>
<line x1="774.20" y1="328.80" x2="830.60" y2="328.80" stroke="#505050" stroke-width="0.9"/>
<line x1="774.20" y1="328.80" x2="774.20" y2="331.00" stroke="#888" stroke-width="0.8"/>
<line x1="830.60" y1="328.80" x2="830.60" y2="331.00" stroke="#888" stroke-width="0.8"/>
<line x1="774.20" y1="331.00" x2="830.60" y2="331.00" stroke="#999" stroke-width="1.0"/>
<polyline points="779.30,378.60 779.30,333.80 825.50,333.80 825.50,378.60" fill="none" stroke="#888" stroke-width="0.9"/>
<polyline points="780.70,378.60 780.70,335.30 824.10,335.30 824.10,378.60" fill="none" stroke="#aaa" stroke-width="0.8"/>
<line x1="781.70" y1="335.70" x2="823.00" y2="335.70" stroke="#5a5a5a" stroke-width="1.25"/>
<line x1="781.70" y1="347.00" x2="823.00" y2="347.00" stroke="#5a5a5a" stroke-width="1.25"/>
<line x1="781.70" y1="361.80" x2="823.00" y2="361.80" stroke="#5a5a5a" stroke-width="1.25"/>
<line x1="781.70" y1="335.70" x2="781.70" y2="377.80" stroke="#666" stroke-width="1.0"/>
<line x1="823.00" y1="335.70" x2="823.00" y2="377.80" stroke="#666" stroke-width="1.0"/>
<line x1="795.60" y1="335.70" x2="795.60" y2="377.80" stroke="#6a6a6a" stroke-width="1.0"/>
<line x1="809.20" y1="335.70" x2="809.20" y2="377.80" stroke="#6a6a6a" stroke-width="1.0"/>
<rect x="796.70" y="348.60" width="11.40" height="12.40" fill="none" stroke="#888" stroke-width="0.8"/>
<line x1="796.70" y1="361.80" x2="796.70" y2="377.80" stroke="#aaa" stroke-width="0.8"/>
<line x1="808.10" y1="361.80" x2="808.10" y2="377.80" stroke="#aaa" stroke-width="0.8"/>
<line x1="781.70" y1="377.20" x2="823.00" y2="377.20" stroke="#888" stroke-width="0.9"/>
<line x1="796.90" y1="362.30" x2="796.90" y2="364.80" stroke="#444" stroke-width="1.2"/>
<line x1="853.40" y1="319.10" x2="853.40" y2="378.60" stroke="#505050" stroke-width="0.8"/>
<line x1="903.40" y1="319.10" x2="903.40" y2="378.60" stroke="#505050" stroke-width="0.8"/>
<line x1="850.20" y1="328.80" x2="906.60" y2="328.80" stroke="#505050" stroke-width="0.9"/>
<line x1="850.20" y1="328.80" x2="850.20" y2="331.00" stroke="#888" stroke-width="0.8"/>
<line x1="906.60" y1="328.80" x2="906.60" y2="331.00" stroke="#888" stroke-width="0.8"/>
<line x1="850.20" y1="331.00" x2="906.60" y2="331.00" stroke="#999" stroke-width="1.0"/>
<polyline points="855.30,378.60 855.30,333.80 901.50,333.80 901.50,378.60" fill="none" stroke="#888" stroke-width="0.9"/>
<polyline points="856.70,378.60 856.70,335.30 900.10,335.30 900.10,378.60" fill="none" stroke="#aaa" stroke-width="0.8"/>
<line x1="857.70" y1="335.70" x2="899.00" y2="335.70" stroke="#5a5a5a" stroke-width="1.25"/>
<line x1="857.70" y1="347.00" x2="899.00" y2="347.00" stroke="#5a5a5a" stroke-width="1.25"/>
<line x1="857.70" y1="361.80" x2="899.00" y2="361.80" stroke="#5a5a5a" stroke-width="1.25"/>
<line x1="857.70" y1="335.70" x2="857.70" y2="377.80" stroke="#666" stroke-width="1.0"/>
<line x1="899.00" y1="335.70" x2="899.00" y2="377.80" stroke="#666" stroke-width="1.0"/>
<line x1="871.60" y1="335.70" x2="871.60" y2="377.80" stroke="#6a6a6a" stroke-width="1.0"/>
<line x1="885.20" y1="335.70" x2="885.20" y2="377.80" stroke="#6a6a6a" stroke-width="1.0"/>
<rect x="872.70" y="348.60" width="11.40" height="12.40" fill="none" stroke="#888" stroke-width="0.8"/>
<line x1="872.70" y1="361.80" x2="872.70" y2="377.80" stroke="#aaa" stroke-width="0.8"/>
<line x1="884.10" y1="361.80" x2="884.10" y2="377.80" stroke="#aaa" stroke-width="0.8"/>
<line x1="857.70" y1="377.20" x2="899.00" y2="377.20" stroke="#888" stroke-width="0.9"/>
<line x1="872.90" y1="362.30" x2="872.90" y2="364.80" stroke="#444" stroke-width="1.2"/>
<line x1="928.80" y1="319.10" x2="928.80" y2="378.60" stroke="#505050" stroke-width="0.8"/>
<line x1="978.80" y1="319.10" x2="978.80" y2="378.60" stroke="#505050" stroke-width="0.8"/>
<line x1="925.60" y1="328.80" x2="982.00" y2="328.80" stroke="#505050" stroke-width="0.9"/>
<line x1="925.60" y1="328.80" x2="925.60" y2="331.00" stroke="#888" stroke-width="0.8"/>
<line x1="982.00" y1="328.80" x2="982.00" y2="331.00" stroke="#888" stroke-width="0.8"/>
<line x1="925.60" y1="331.00" x2="982.00" y2="331.00" stroke="#999" stroke-width="1.0"/>
<polyline points="930.70,378.60 930.70,333.80 976.90,333.80 976.90,378.60" fill="none" stroke="#888" stroke-width="0.9"/>
<polyline points="932.10,378.60 932.10,335.30 975.50,335.30 975.50,378.60" fill="none" stroke="#aaa" stroke-width="0.8"/>
<line x1="933.10" y1="335.70" x2="974.40" y2="335.70" stroke="#5a5a5a" stroke-width="1.25"/>
<line x1="933.10" y1="347.00" x2="974.40" y2="347.00" stroke="#5a5a5a" stroke-width="1.25"/>
<line x1="933.10" y1="361.80" x2="974.40" y2="361.80" stroke="#5a5a5a" stroke-width="1.25"/>
<line x1="933.10" y1="335.70" x2="933.10" y2="377.80" stroke="#666" stroke-width="1.0"/>
<line x1="974.40" y1="335.70" x2="974.40" y2="377.80" stroke="#666" stroke-width="1.0"/>
<line x1="947.00" y1="335.70" x2="947.00" y2="377.80" stroke="#6a6a6a" stroke-width="1.0"/>
<line x1="960.60" y1="335.70" x2="960.60" y2="377.80" stroke="#6a6a6a" stroke-width="1.0"/>
<rect x="948.10" y="348.60" width="11.40" height="12.40" fill="none" stroke="#888" stroke-width="0.8"/>
<line x1="948.10" y1="361.80" x2="948.10" y2="377.80" stroke="#aaa" stroke-width="0.8"/>
<line x1="959.50" y1="361.80" x2="959.50" y2="377.80" stroke="#aaa" stroke-width="0.8"/>
<line x1="933.10" y1="377.20" x2="974.40" y2="377.20" stroke="#888" stroke-width="0.9"/>
<line x1="948.30" y1="362.30" x2="948.30" y2="364.80" stroke="#444" stroke-width="1.2"/>
<line x1="1004.70" y1="319.10" x2="1004.70" y2="378.60" stroke="#505050" stroke-width="0.8"/>
<line x1="1054.70" y1="319.10" x2="1054.70" y2="378.60" stroke="#505050" stroke-width="0.8"/>
<line x1="1001.50" y1="328.80" x2="1057.90" y2="328.80" stroke="#505050" stroke-width="0.9"/>
<line x1="1001.50" y1="328.80" x2="1001.50" y2="331.00" stroke="#888" stroke-width="0.8"/>
<line x1="1057.90" y1="328.80" x2="1057.90" y2="331.00" stroke="#888" stroke-width="0.8"/>
<line x1="1001.50" y1="331.00" x2="1057.90" y2="331.00" stroke="#999" stroke-width="1.0"/>
<polyline points="1006.60,378.60 1006.60,333.80 1052.80,333.80 1052.80,378.60" fill="none" stroke="#888" stroke-width="0.9"/>
<polyline points="1008.00,378.60 1008.00,335.30 1051.40,335.30 1051.40,378.60" fill="none" stroke="#aaa" stroke-width="0.8"/>
<line x1="1009.00" y1="335.70" x2="1050.30" y2="335.70" stroke="#5a5a5a" stroke-width="1.25"/>
<line x1="1009.00" y1="347.00" x2="1050.30" y2="347.00" stroke="#5a5a5a" stroke-width="1.25"/>
<line x1="1009.00" y1="361.80" x2="1050.30" y2="361.80" stroke="#5a5a5a" stroke-width="1.25"/>
<line x1="1009.00" y1="335.70" x2="1009.00" y2="377.80" stroke="#666" stroke-width="1.0"/>
<line x1="1050.30" y1="335.70" x2="1050.30" y2="377.80" stroke="#666" stroke-width="1.0"/>
<line x1="1022.90" y1="335.70" x2="1022.90" y2="377.80" stroke="#6a6a6a" stroke-width="1.0"/>
<line x1="1036.50" y1="335.70" x2="1036.50" y2="377.80" stroke="#6a6a6a" stroke-width="1.0"/>
<rect x="1024.00" y="348.60" width="11.40" height="12.40" fill="none" stroke="#888" stroke-width="0.8"/>
<line x1="1024.00" y1="361.80" x2="1024.00" y2="377.80" stroke="#aaa" stroke-width="0.8"/>
<line x1="1035.40" y1="361.80" x2="1035.40" y2="377.80" stroke="#aaa" stroke-width="0.8"/>
<line x1="1009.00" y1="377.20" x2="1050.30" y2="377.20" stroke="#888" stroke-width="0.9"/>
<line x1="1024.20" y1="362.30" x2="1024.20" y2="364.80" stroke="#444" stroke-width="1.2"/>
<line x1="829.15" y1="329.60" x2="833.80" y2="376.40" stroke="#707070" stroke-width="0.9"/>
<line x1="851.65" y1="329.60" x2="847.00" y2="376.40" stroke="#707070" stroke-width="0.9"/>
<line x1="831.95" y1="329.60" x2="836.32" y2="376.40" stroke="#8a8a8a" stroke-width="0.9"/>
<line x1="848.85" y1="329.60" x2="844.48" y2="376.40" stroke="#8a8a8a" stroke-width="0.9"/>
<line x1="833.80" y1="376.40" x2="847.00" y2="376.40" stroke="#888" stroke-width="0.8"/>
<line x1="829.32" y1="331.30" x2="851.48" y2="331.30" stroke="#666" stroke-width="0.8"/>
<line x1="831.10" y1="349.20" x2="849.70" y2="349.20" stroke="#666" stroke-width="0.8"/>
<line x1="833.03" y1="368.70" x2="847.77" y2="368.70" stroke="#666" stroke-width="0.8"/>
<polygon points="833.60,332.80 840.40,339.30 847.20,332.80 847.20,334.70 840.40,341.20 833.60,334.70" fill="#d8d8d8" stroke="#808080" stroke-width="0.8"/>
<polygon points="833.60,337.70 840.40,344.20 847.20,337.70 847.20,339.60 840.40,346.10 833.60,339.60" fill="#d8d8d8" stroke="#808080" stroke-width="0.8"/>
<polygon points="833.60,342.60 840.40,349.10 847.20,342.60 847.20,344.50 840.40,351.00 833.60,344.50" fill="#d8d8d8" stroke="#808080" stroke-width="0.8"/>
<polygon points="837.60,360.00 840.40,366.50 843.20,360.00" fill="none" stroke="#888" stroke-width="0.8"/>
<polyline points="837.00,368.70 837.40,375.00 843.40,375.00 843.80,368.70" fill="none" stroke="#888" stroke-width="0.8"/>
<line x1="829.60" y1="379.80" x2="851.20" y2="379.80" stroke="#5a5a5a" stroke-width="1.6"/>
<line x1="904.85" y1="329.60" x2="909.50" y2="376.40" stroke="#707070" stroke-width="0.9"/>
<line x1="927.35" y1="329.60" x2="922.70" y2="376.40" stroke="#707070" stroke-width="0.9"/>
<line x1="907.65" y1="329.60" x2="912.02" y2="376.40" stroke="#8a8a8a" stroke-width="0.9"/>
<line x1="924.55" y1="329.60" x2="920.18" y2="376.40" stroke="#8a8a8a" stroke-width="0.9"/>
<line x1="909.50" y1="376.40" x2="922.70" y2="376.40" stroke="#888" stroke-width="0.8"/>
<line x1="905.02" y1="331.30" x2="927.18" y2="331.30" stroke="#666" stroke-width="0.8"/>
<line x1="906.80" y1="349.20" x2="925.40" y2="349.20" stroke="#666" stroke-width="0.8"/>
<line x1="908.73" y1="368.70" x2="923.47" y2="368.70" stroke="#666" stroke-width="0.8"/>
<polygon points="909.30,332.80 916.10,339.30 922.90,332.80 922.90,334.70 916.10,341.20 909.30,334.70" fill="#d8d8d8" stroke="#808080" stroke-width="0.8"/>
<polygon points="909.30,337.70 916.10,344.20 922.90,337.70 922.90,339.60 916.10,346.10 909.30,339.60" fill="#d8d8d8" stroke="#808080" stroke-width="0.8"/>
<polygon points="909.30,342.60 916.10,349.10 922.90,342.60 922.90,344.50 916.10,351.00 909.30,344.50" fill="#d8d8d8" stroke="#808080" stroke-width="0.8"/>
<polygon points="913.30,360.00 916.10,366.50 918.90,360.00" fill="none" stroke="#888" stroke-width="0.8"/>
<polyline points="912.70,368.70 913.10,375.00 919.10,375.00 919.50,368.70" fill="none" stroke="#888" stroke-width="0.8"/>
<line x1="905.30" y1="379.80" x2="926.90" y2="379.80" stroke="#5a5a5a" stroke-width="1.6"/>
<line x1="980.50" y1="329.60" x2="985.15" y2="376.40" stroke="#707070" stroke-width="0.9"/>
<line x1="1003.00" y1="329.60" x2="998.35" y2="376.40" stroke="#707070" stroke-width="0.9"/>
<line x1="983.30" y1="329.60" x2="987.67" y2="376.40" stroke="#8a8a8a" stroke-width="0.9"/>
<line x1="1000.20" y1="329.60" x2="995.83" y2="376.40" stroke="#8a8a8a" stroke-width="0.9"/>
<line x1="985.15" y1="376.40" x2="998.35" y2="376.40" stroke="#888" stroke-width="0.8"/>
<line x1="980.67" y1="331.30" x2="1002.83" y2="331.30" stroke="#666" stroke-width="0.8"/>
<line x1="982.45" y1="349.20" x2="1001.05" y2="349.20" stroke="#666" stroke-width="0.8"/>
<line x1="984.38" y1="368.70" x2="999.12" y2="368.70" stroke="#666" stroke-width="0.8"/>
<polygon points="984.95,332.80 991.75,339.30 998.55,332.80 998.55,334.70 991.75,341.20 984.95,334.70" fill="#d8d8d8" stroke="#808080" stroke-width="0.8"/>
<polygon points="984.95,337.70 991.75,344.20 998.55,337.70 998.55,339.60 991.75,346.10 984.95,339.60" fill="#d8d8d8" stroke="#808080" stroke-width="0.8"/>
<polygon points="984.95,342.60 991.75,349.10 998.55,342.60 998.55,344.50 991.75,351.00 984.95,344.50" fill="#d8d8d8" stroke="#808080" stroke-width="0.8"/>
<polygon points="988.95,360.00 991.75,366.50 994.55,360.00" fill="none" stroke="#888" stroke-width="0.8"/>
<polyline points="988.35,368.70 988.75,375.00 994.75,375.00 995.15,368.70" fill="none" stroke="#888" stroke-width="0.8"/>
<line x1="980.95" y1="379.80" x2="1002.55" y2="379.80" stroke="#5a5a5a" stroke-width="1.6"/>
<line x1="1057.70" y1="331.00" x2="1064.60" y2="375.50" stroke="#777" stroke-width="0.8"/>
<line x1="1057.16" y1="331.00" x2="1062.80" y2="375.50" stroke="#999" stroke-width="0.8"/>
<line x1="1054.70" y1="335.50" x2="1065.80" y2="335.50" stroke="#777" stroke-width="0.8"/>
<line x1="1054.70" y1="351.00" x2="1065.80" y2="351.00" stroke="#777" stroke-width="0.8"/>
<line x1="1054.70" y1="367.50" x2="1065.80" y2="367.50" stroke="#777" stroke-width="0.8"/>
<line x1="715.30" y1="318.70" x2="715.30" y2="378.60" stroke="#505050" stroke-width="0.8"/>
<line x1="710.00" y1="318.70" x2="710.00" y2="378.60" stroke="#888" stroke-width="0.8"/>
<line x1="712.00" y1="331.00" x2="712.00" y2="378.60" stroke="#999" stroke-width="0.8"/>
<rect x="708.80" y="318.70" width="6.50" height="9.50" fill="none" stroke="#888" stroke-width="0.8"/>
<line x1="765.30" y1="318.70" x2="765.30" y2="378.60" stroke="#505050" stroke-width="0.8"/>
<line x1="767.00" y1="330.00" x2="767.00" y2="378.60" stroke="#999" stroke-width="0.8"/>
<line x1="708.80" y1="328.60" x2="777.40" y2="328.60" stroke="#505050" stroke-width="0.9"/>
<line x1="708.80" y1="330.60" x2="777.40" y2="330.60" stroke="#999" stroke-width="1.0"/>
<rect x="717.40" y="333.30" width="45.30" height="45.30" fill="none" stroke="#555" stroke-width="1.0"/>
<rect x="718.80" y="334.70" width="42.50" height="43.90" fill="none" stroke="#999" stroke-width="0.8"/>
<line x1="730.00" y1="334.70" x2="730.00" y2="378.60" stroke="#555" stroke-width="0.9"/>
<line x1="750.70" y1="334.70" x2="750.70" y2="378.60" stroke="#555" stroke-width="0.9"/>
<line x1="744.80" y1="346.70" x2="744.80" y2="378.60" stroke="#777" stroke-width="0.9"/>
<line x1="746.00" y1="346.70" x2="746.00" y2="378.60" stroke="#aaa" stroke-width="0.8"/>
<line x1="718.80" y1="346.70" x2="761.30" y2="346.70" stroke="#555" stroke-width="1.0"/>
<polygon points="775.00,329.50 777.00,330.50 769.00,375.50 766.80,375.00" fill="none" stroke="#8a8a8a" stroke-width="0.8"/>
<line x1="765.30" y1="349.30" x2="775.00" y2="349.30" stroke="#888" stroke-width="0.8"/>
<line x1="765.30" y1="368.00" x2="775.00" y2="368.00" stroke="#888" stroke-width="0.8"/>
<line x1="177.00" y1="380.20" x2="1080.00" y2="380.20" stroke="#999" stroke-width="1.4"/>
<line x1="708.80" y1="376.80" x2="1068.90" y2="376.80" stroke="#aaa" stroke-width="0.8"/>
<line x1="717.40" y1="380.20" x2="726.50" y2="380.20" stroke="#666" stroke-width="1.6"/>
<line x1="754.70" y1="380.20" x2="777.00" y2="380.20" stroke="#666" stroke-width="1.6"/>
<line x1="829.30" y1="380.20" x2="850.70" y2="380.20" stroke="#666" stroke-width="1.6"/>
<line x1="905.50" y1="380.20" x2="927.00" y2="380.20" stroke="#666" stroke-width="1.6"/>
<line x1="981.00" y1="380.20" x2="1002.50" y2="380.20" stroke="#666" stroke-width="1.6"/>
<line x1="1057.00" y1="380.20" x2="1078.00" y2="380.20" stroke="#666" stroke-width="1.6"/>
<line x1="180.00" y1="376.60" x2="703.70" y2="376.60" stroke="#aaa" stroke-width="0.8"/>
<line x1="170.00" y1="380.40" x2="177.00" y2="380.40" stroke="#777" stroke-width="1.0"/>
<line x1="113.20" y1="282.10" x2="138.70" y2="282.10" stroke="#333" stroke-width="1.1"/>
<line x1="138.70" y1="282.10" x2="138.70" y2="289.30" stroke="#333" stroke-width="1.1"/>
<polyline points="136.80,285.50 138.70,289.30 140.60,285.50" fill="none" stroke="#222" stroke-width="0.9"/>
<polygon points="137.70,287.10 138.70,289.30 139.70,287.10" fill="#222" stroke="#222" stroke-width="0.6"/>
<text x="114.20" y="281.40" font-size="13" fill="#3a3a3a" text-anchor="start" textLength="24.30" lengthAdjust="spacingAndGlyphs">5,863</text>
<line x1="140.00" y1="289.30" x2="172.50" y2="289.30" stroke="#8a8a8a" stroke-width="1.0"/>
<line x1="113.20" y1="298.30" x2="138.70" y2="298.30" stroke="#333" stroke-width="1.1"/>
<line x1="138.70" y1="298.30" x2="138.70" y2="305.50" stroke="#333" stroke-width="1.1"/>
<polyline points="136.80,301.70 138.70,305.50 140.60,301.70" fill="none" stroke="#222" stroke-width="0.9"/>
<polygon points="137.70,303.30 138.70,305.50 139.70,303.30" fill="#222" stroke="#222" stroke-width="0.6"/>
<text x="115.00" y="297.60" font-size="13" fill="#3a3a3a" text-anchor="start" textLength="22.50" lengthAdjust="spacingAndGlyphs">4,821</text>
<line x1="140.00" y1="305.50" x2="172.50" y2="305.50" stroke="#8a8a8a" stroke-width="1.0"/>
<line x1="113.20" y1="315.80" x2="138.70" y2="315.80" stroke="#333" stroke-width="1.1"/>
<line x1="138.70" y1="315.80" x2="138.70" y2="308.80" stroke="#333" stroke-width="1.1"/>
<polyline points="136.80,312.60 138.70,308.80 140.60,312.60" fill="none" stroke="#222" stroke-width="0.9"/>
<polygon points="137.70,311.00 138.70,308.80 139.70,311.00" fill="#222" stroke="#222" stroke-width="0.6"/>
<text x="114.20" y="326.40" font-size="13" fill="#3a3a3a" text-anchor="start" textLength="24.30" lengthAdjust="spacingAndGlyphs">4,593</text>
<line x1="140.00" y1="308.80" x2="172.50" y2="308.80" stroke="#8a8a8a" stroke-width="1.0"/>
<line x1="113.20" y1="373.30" x2="138.70" y2="373.30" stroke="#333" stroke-width="1.1"/>
<line x1="138.70" y1="373.30" x2="138.70" y2="380.50" stroke="#333" stroke-width="1.1"/>
<polyline points="136.80,376.70 138.70,380.50 140.60,376.70" fill="none" stroke="#222" stroke-width="0.9"/>
<polygon points="137.70,378.30 138.70,380.50 139.70,378.30" fill="#222" stroke="#222" stroke-width="0.6"/>
<text x="95.20" y="372.60" font-size="13" fill="#3a3a3a" text-anchor="start" textLength="43.50" lengthAdjust="spacingAndGlyphs">Ур. земли</text>
<line x1="95.00" y1="373.00" x2="138.70" y2="373.00" stroke="#333" stroke-width="1.1"/>
<line x1="140.00" y1="380.50" x2="162.50" y2="380.50" stroke="#8a8a8a" stroke-width="1.0"/>
<line x1="1107.50" y1="275.70" x2="1134.80" y2="275.70" stroke="#333" stroke-width="1.1"/>
<line x1="1107.50" y1="275.70" x2="1107.50" y2="282.90" stroke="#333" stroke-width="1.1"/>
<polyline points="1105.60,279.10 1107.50,282.90 1109.40,279.10" fill="none" stroke="#222" stroke-width="0.9"/>
<polygon points="1106.50,280.70 1107.50,282.90 1108.50,280.70" fill="#222" stroke="#222" stroke-width="0.6"/>
<text x="1111.00" y="275.00" font-size="13" fill="#3a3a3a" text-anchor="start" textLength="24.30" lengthAdjust="spacingAndGlyphs">6,326</text>
<line x1="1107.50" y1="286.10" x2="1134.80" y2="286.10" stroke="#333" stroke-width="1.1"/>
<line x1="1107.50" y1="286.10" x2="1107.50" y2="293.30" stroke="#333" stroke-width="1.1"/>
<polyline points="1105.60,289.50 1107.50,293.30 1109.40,289.50" fill="none" stroke="#222" stroke-width="0.9"/>
<polygon points="1106.50,291.10 1107.50,293.30 1108.50,291.10" fill="#222" stroke="#222" stroke-width="0.6"/>
<text x="1111.00" y="285.40" font-size="13" fill="#3a3a3a" text-anchor="start" textLength="24.30" lengthAdjust="spacingAndGlyphs">5,625</text>
<line x1="1073.50" y1="293.30" x2="1107.50" y2="293.30" stroke="#8a8a8a" stroke-width="1.0"/>
<line x1="1107.50" y1="307.00" x2="1134.80" y2="307.00" stroke="#333" stroke-width="1.1"/>
<line x1="1107.50" y1="307.00" x2="1107.50" y2="314.20" stroke="#333" stroke-width="1.1"/>
<polyline points="1105.60,310.40 1107.50,314.20 1109.40,310.40" fill="none" stroke="#222" stroke-width="0.9"/>
<polygon points="1106.50,312.00 1107.50,314.20 1108.50,312.00" fill="#222" stroke="#222" stroke-width="0.6"/>
<text x="1111.00" y="306.30" font-size="13" fill="#3a3a3a" text-anchor="start" textLength="24.30" lengthAdjust="spacingAndGlyphs">4,268</text>
<line x1="1073.50" y1="314.20" x2="1107.50" y2="314.20" stroke="#8a8a8a" stroke-width="1.0"/>
<line x1="1107.50" y1="326.10" x2="1134.80" y2="326.10" stroke="#333" stroke-width="1.1"/>
<line x1="1107.50" y1="326.10" x2="1107.50" y2="333.30" stroke="#333" stroke-width="1.1"/>
<polyline points="1105.60,329.50 1107.50,333.30 1109.40,329.50" fill="none" stroke="#222" stroke-width="0.9"/>
<polygon points="1106.50,331.10 1107.50,333.30 1108.50,331.10" fill="#222" stroke="#222" stroke-width="0.6"/>
<text x="1111.00" y="325.40" font-size="13" fill="#3a3a3a" text-anchor="start" textLength="24.30" lengthAdjust="spacingAndGlyphs">3,000</text>
<line x1="1068.90" y1="333.30" x2="1107.50" y2="333.30" stroke="#8a8a8a" stroke-width="1.0"/>
<line x1="1107.50" y1="340.00" x2="1134.00" y2="340.00" stroke="#333" stroke-width="1.1"/>
<line x1="1107.50" y1="340.00" x2="1107.50" y2="347.20" stroke="#333" stroke-width="1.1"/>
<polyline points="1105.60,343.40 1107.50,347.20 1109.40,343.40" fill="none" stroke="#222" stroke-width="0.9"/>
<polygon points="1106.50,345.00 1107.50,347.20 1108.50,345.00" fill="#222" stroke="#222" stroke-width="0.6"/>
<text x="1111.00" y="339.30" font-size="13" fill="#3a3a3a" text-anchor="start" textLength="23.50" lengthAdjust="spacingAndGlyphs">2,100</text>
<line x1="1060.00" y1="347.20" x2="1107.50" y2="347.20" stroke="#8a8a8a" stroke-width="1.0"/>
<line x1="1107.50" y1="371.60" x2="1136.00" y2="371.60" stroke="#333" stroke-width="1.1"/>
<line x1="1107.50" y1="371.60" x2="1107.50" y2="378.80" stroke="#333" stroke-width="1.1"/>
<polyline points="1105.60,375.00 1107.50,378.80 1109.40,375.00" fill="none" stroke="#222" stroke-width="0.9"/>
<polygon points="1106.50,376.60 1107.50,378.80 1108.50,376.60" fill="#222" stroke="#222" stroke-width="0.6"/>
<text x="1111.00" y="370.90" font-size="13" fill="#3a3a3a" text-anchor="start" textLength="25.50" lengthAdjust="spacingAndGlyphs">0,000</text>
<line x1="1070.00" y1="378.80" x2="1107.50" y2="378.80" stroke="#8a8a8a" stroke-width="1.0"/>
<line x1="178.30" y1="380.00" x2="178.30" y2="417.00" stroke="#555" stroke-width="0.9"/>
<line x1="1068.50" y1="380.00" x2="1068.50" y2="417.00" stroke="#555" stroke-width="0.9"/>
<line x1="176.00" y1="408.80" x2="1070.50" y2="408.80" stroke="#555" stroke-width="0.9"/>
<line x1="176.50" y1="410.60" x2="180.10" y2="407.00" stroke="#333" stroke-width="1.1"/>
<line x1="1066.70" y1="410.60" x2="1070.30" y2="407.00" stroke="#333" stroke-width="1.1"/>
<text x="622.50" y="407.00" font-size="17.5" fill="#333" text-anchor="middle" textLength="43.00" lengthAdjust="spacingAndGlyphs">58 700</text>
<circle cx="178.30" cy="433.30" r="15.2" fill="none" stroke="#8a8a8a" stroke-width="1.0"/>
<text x="178.30" y="439.90" font-size="18.5" fill="#333" text-anchor="middle" textLength="14.00" lengthAdjust="spacingAndGlyphs">13</text>
<circle cx="1067.50" cy="433.00" r="15.2" fill="none" stroke="#8a8a8a" stroke-width="1.0"/>
<text x="1067.50" y="439.60" font-size="18.5" fill="#333" text-anchor="middle">1</text>
<text x="366.00" y="489.50" font-size="17.5" fill="#222" text-anchor="middle" textLength="81.50" lengthAdjust="spacingAndGlyphs" class="thin">Фаса∂ А–Е</text>
<line x1="236.70" y1="525.40" x2="498.60" y2="548.00" stroke="#505050" stroke-width="0.9"/>
<line x1="237.50" y1="527.60" x2="498.60" y2="550.30" stroke="#777" stroke-width="0.8"/>
<line x1="282.50" y1="534.50" x2="501.80" y2="554.40" stroke="#505050" stroke-width="0.8"/>
<polyline points="497.20,547.60 502.30,551.20 502.30,554.40 497.20,554.40" fill="none" stroke="#888" stroke-width="0.8"/>
<line x1="237.30" y1="525.40" x2="237.30" y2="622.50" stroke="#505050" stroke-width="0.9"/>
<line x1="229.60" y1="545.40" x2="229.60" y2="622.50" stroke="#777" stroke-width="0.8"/>
<line x1="282.10" y1="532.30" x2="282.10" y2="622.50" stroke="#505050" stroke-width="0.9"/>
<polyline points="237.30,535.00 235.40,535.50 235.40,545.40" fill="none" stroke="#777" stroke-width="0.8"/>
<line x1="229.60" y1="545.40" x2="282.10" y2="545.40" stroke="#505050" stroke-width="0.9"/>
<line x1="229.60" y1="562.90" x2="282.10" y2="562.90" stroke="#aaa" stroke-width="1.0"/>
<line x1="229.60" y1="564.30" x2="282.10" y2="564.30" stroke="#666" stroke-width="0.8"/>
<line x1="229.60" y1="565.80" x2="282.10" y2="565.80" stroke="#777" stroke-width="0.8"/>
<line x1="229.60" y1="589.50" x2="282.10" y2="589.50" stroke="#505050" stroke-width="0.8"/>
<line x1="229.60" y1="612.00" x2="282.10" y2="612.00" stroke="#505050" stroke-width="0.8"/>
<line x1="229.60" y1="619.30" x2="282.10" y2="619.30" stroke="#999" stroke-width="0.8"/>
<line x1="283.30" y1="534.00" x2="283.30" y2="622.50" stroke="#999" stroke-width="0.8"/>
<line x1="286.70" y1="534.40" x2="286.70" y2="622.50" stroke="#888" stroke-width="0.8"/>
<line x1="299.40" y1="536.03" x2="299.40" y2="620.50" stroke="#505050" stroke-width="0.8"/>
<line x1="314.60" y1="537.41" x2="314.60" y2="620.50" stroke="#505050" stroke-width="0.8"/>
<line x1="329.90" y1="538.80" x2="329.90" y2="620.50" stroke="#505050" stroke-width="0.8"/>
<line x1="345.20" y1="540.19" x2="345.20" y2="620.50" stroke="#505050" stroke-width="0.8"/>
<line x1="360.50" y1="541.57" x2="360.50" y2="620.50" stroke="#505050" stroke-width="0.8"/>
<line x1="375.70" y1="542.95" x2="375.70" y2="620.50" stroke="#505050" stroke-width="0.8"/>
<line x1="390.60" y1="544.30" x2="390.60" y2="620.50" stroke="#505050" stroke-width="0.8"/>
<line x1="405.70" y1="545.67" x2="405.70" y2="620.50" stroke="#505050" stroke-width="0.8"/>
<line x1="420.40" y1="547.01" x2="420.40" y2="620.50" stroke="#505050" stroke-width="0.8"/>
<line x1="435.50" y1="548.38" x2="435.50" y2="620.50" stroke="#505050" stroke-width="0.8"/>
<line x1="450.60" y1="549.75" x2="450.60" y2="620.50" stroke="#505050" stroke-width="0.8"/>
<line x1="466.00" y1="551.14" x2="466.00" y2="620.50" stroke="#505050" stroke-width="0.8"/>
<line x1="481.40" y1="552.54" x2="481.40" y2="620.50" stroke="#505050" stroke-width="0.8"/>
<line x1="494.50" y1="553.50" x2="494.50" y2="622.50" stroke="#888" stroke-width="0.8"/>
<line x1="498.60" y1="554.40" x2="498.60" y2="622.50" stroke="#505050" stroke-width="0.8"/>
<line x1="286.70" y1="620.50" x2="498.60" y2="620.50" stroke="#888" stroke-width="0.8"/>
<line x1="229.60" y1="622.80" x2="508.00" y2="622.80" stroke="#666" stroke-width="1.3"/>
<line x1="212.90" y1="621.80" x2="229.60" y2="621.80" stroke="#aaa" stroke-width="1.4"/>
<line x1="156.00" y1="518.10" x2="181.50" y2="518.10" stroke="#333" stroke-width="1.1"/>
<line x1="181.50" y1="518.10" x2="181.50" y2="525.30" stroke="#333" stroke-width="1.1"/>
<polyline points="179.60,521.50 181.50,525.30 183.40,521.50" fill="none" stroke="#222" stroke-width="0.9"/>
<polygon points="180.50,523.10 181.50,525.30 182.50,523.10" fill="#222" stroke="#222" stroke-width="0.6"/>
<text x="156.50" y="517.40" font-size="13" fill="#3a3a3a" text-anchor="start" textLength="24.50" lengthAdjust="spacingAndGlyphs">6,326</text>
<line x1="182.50" y1="525.30" x2="232.40" y2="525.30" stroke="#8a8a8a" stroke-width="1.0"/>
<line x1="156.00" y1="539.40" x2="181.50" y2="539.40" stroke="#333" stroke-width="1.1"/>
<line x1="181.50" y1="539.40" x2="181.50" y2="532.40" stroke="#333" stroke-width="1.1"/>
<polyline points="179.60,536.20 181.50,532.40 183.40,536.20" fill="none" stroke="#222" stroke-width="0.9"/>
<polygon points="180.50,534.60 181.50,532.40 182.50,534.60" fill="#222" stroke="#222" stroke-width="0.6"/>
<text x="156.50" y="550.00" font-size="13" fill="#3a3a3a" text-anchor="start" textLength="24.50" lengthAdjust="spacingAndGlyphs">5,863</text>
<line x1="182.50" y1="532.40" x2="282.00" y2="532.40" stroke="#555" stroke-width="0.9"/>
<line x1="156.00" y1="552.50" x2="181.50" y2="552.50" stroke="#333" stroke-width="1.1"/>
<line x1="181.50" y1="552.50" x2="181.50" y2="545.50" stroke="#333" stroke-width="1.1"/>
<polyline points="179.60,549.30 181.50,545.50 183.40,549.30" fill="none" stroke="#222" stroke-width="0.9"/>
<polygon points="180.50,547.70 181.50,545.50 182.50,547.70" fill="#222" stroke="#222" stroke-width="0.6"/>
<text x="157.00" y="563.10" font-size="13" fill="#3a3a3a" text-anchor="start" textLength="24.50" lengthAdjust="spacingAndGlyphs">5,019</text>
<line x1="182.50" y1="545.50" x2="225.10" y2="545.50" stroke="#8a8a8a" stroke-width="1.0"/>
<line x1="156.00" y1="614.20" x2="181.50" y2="614.20" stroke="#333" stroke-width="1.1"/>
<line x1="181.50" y1="614.20" x2="181.50" y2="621.40" stroke="#333" stroke-width="1.1"/>
<polyline points="179.60,617.60 181.50,621.40 183.40,617.60" fill="none" stroke="#222" stroke-width="0.9"/>
<polygon points="180.50,619.20 181.50,621.40 182.50,619.20" fill="#222" stroke="#222" stroke-width="0.6"/>
<text x="156.00" y="613.50" font-size="13" fill="#3a3a3a" text-anchor="start" textLength="25.50" lengthAdjust="spacingAndGlyphs">0,000</text>
<line x1="182.50" y1="621.40" x2="209.20" y2="621.40" stroke="#8a8a8a" stroke-width="1.0"/>
<line x1="542.50" y1="541.10" x2="569.50" y2="541.10" stroke="#333" stroke-width="1.1"/>
<line x1="542.50" y1="541.10" x2="542.50" y2="548.30" stroke="#333" stroke-width="1.1"/>
<polyline points="540.60,544.50 542.50,548.30 544.40,544.50" fill="none" stroke="#222" stroke-width="0.9"/>
<polygon points="541.50,546.10 542.50,548.30 543.50,546.10" fill="#222" stroke="#222" stroke-width="0.6"/>
<text x="546.00" y="540.40" font-size="13" fill="#3a3a3a" text-anchor="start" textLength="24.00" lengthAdjust="spacingAndGlyphs">4,821</text>
<line x1="503.70" y1="548.30" x2="542.50" y2="548.30" stroke="#8a8a8a" stroke-width="1.0"/>
<line x1="542.50" y1="558.80" x2="569.50" y2="558.80" stroke="#333" stroke-width="1.1"/>
<line x1="542.50" y1="558.80" x2="542.50" y2="551.80" stroke="#333" stroke-width="1.1"/>
<polyline points="540.60,555.60 542.50,551.80 544.40,555.60" fill="none" stroke="#222" stroke-width="0.9"/>
<polygon points="541.50,554.00 542.50,551.80 543.50,554.00" fill="#222" stroke="#222" stroke-width="0.6"/>
<text x="546.00" y="569.40" font-size="13" fill="#3a3a3a" text-anchor="start" textLength="24.00" lengthAdjust="spacingAndGlyphs">4,593</text>
<line x1="507.50" y1="551.80" x2="542.50" y2="551.80" stroke="#8a8a8a" stroke-width="1.0"/>
<line x1="542.50" y1="616.00" x2="589.50" y2="616.00" stroke="#333" stroke-width="1.1"/>
<line x1="542.50" y1="616.00" x2="542.50" y2="623.20" stroke="#333" stroke-width="1.1"/>
<polyline points="540.60,619.40 542.50,623.20 544.40,619.40" fill="none" stroke="#222" stroke-width="0.9"/>
<polygon points="541.50,621.00 542.50,623.20 543.50,621.00" fill="#222" stroke="#222" stroke-width="0.6"/>
<text x="546.00" y="615.30" font-size="13" fill="#3a3a3a" text-anchor="start" textLength="44.00" lengthAdjust="spacingAndGlyphs">Ур. земли</text>
<line x1="512.50" y1="623.20" x2="542.50" y2="623.20" stroke="#8a8a8a" stroke-width="1.0"/>
<line x1="239.20" y1="623.00" x2="239.20" y2="661.50" stroke="#555" stroke-width="0.9"/>
<line x1="496.70" y1="623.00" x2="496.70" y2="661.50" stroke="#555" stroke-width="0.9"/>
<line x1="237.00" y1="651.30" x2="499.00" y2="651.30" stroke="#555" stroke-width="0.9"/>
<line x1="237.40" y1="653.10" x2="241.00" y2="649.50" stroke="#333" stroke-width="1.1"/>
<line x1="494.90" y1="653.10" x2="498.50" y2="649.50" stroke="#333" stroke-width="1.1"/>
<text x="368.00" y="649.80" font-size="17" fill="#333" text-anchor="middle" textLength="41.50" lengthAdjust="spacingAndGlyphs">17 000</text>
<circle cx="239.20" cy="676.20" r="15.2" fill="none" stroke="#8a8a8a" stroke-width="1.0"/>
<text x="239.20" y="682.80" font-size="18.5" fill="#333" text-anchor="middle" textLength="9.00" lengthAdjust="spacingAndGlyphs">А</text>
<circle cx="496.30" cy="676.30" r="15.2" fill="none" stroke="#8a8a8a" stroke-width="1.0"/>
<text x="496.30" y="682.90" font-size="18.5" fill="#333" text-anchor="middle" textLength="9.00" lengthAdjust="spacingAndGlyphs">Е</text>
<text x="876.50" y="489.50" font-size="17.5" fill="#222" text-anchor="middle" textLength="81.50" lengthAdjust="spacingAndGlyphs" class="thin">Фаса∂ Е–А</text>
<line x1="747.50" y1="547.50" x2="1008.80" y2="525.80" stroke="#505050" stroke-width="0.9"/>
<line x1="748.30" y1="549.20" x2="1008.80" y2="528.00" stroke="#777" stroke-width="0.8"/>
<line x1="773.30" y1="556.50" x2="1005.00" y2="538.50" stroke="#505050" stroke-width="0.8"/>
<rect x="743.30" y="551.20" width="4.20" height="3.40" fill="none" stroke="#999" stroke-width="0.8"/>
<line x1="747.50" y1="547.50" x2="747.50" y2="621.50" stroke="#505050" stroke-width="0.9"/>
<line x1="751.20" y1="549.00" x2="751.20" y2="621.50" stroke="#777" stroke-width="0.8"/>
<line x1="764.20" y1="548.00" x2="764.20" y2="621.50" stroke="#505050" stroke-width="0.8"/>
<line x1="777.60" y1="547.00" x2="777.60" y2="621.50" stroke="#888" stroke-width="0.8"/>
<line x1="779.20" y1="547.00" x2="779.20" y2="621.50" stroke="#505050" stroke-width="0.8"/>
<rect x="773.30" y="556.70" width="8.40" height="64.80" fill="none" stroke="#aaa" stroke-width="0.8"/>
<line x1="794.60" y1="545.43" x2="794.60" y2="620.00" stroke="#505050" stroke-width="0.8"/>
<line x1="810.00" y1="544.18" x2="810.00" y2="620.00" stroke="#505050" stroke-width="0.8"/>
<line x1="825.40" y1="542.93" x2="825.40" y2="620.00" stroke="#505050" stroke-width="0.8"/>
<line x1="840.50" y1="541.70" x2="840.50" y2="620.00" stroke="#505050" stroke-width="0.8"/>
<line x1="855.50" y1="540.48" x2="855.50" y2="620.00" stroke="#505050" stroke-width="0.8"/>
<line x1="870.70" y1="539.24" x2="870.70" y2="620.00" stroke="#505050" stroke-width="0.8"/>
<line x1="885.60" y1="538.03" x2="885.60" y2="620.00" stroke="#505050" stroke-width="0.8"/>
<line x1="900.60" y1="536.81" x2="900.60" y2="620.00" stroke="#505050" stroke-width="0.8"/>
<line x1="915.80" y1="535.57" x2="915.80" y2="620.00" stroke="#505050" stroke-width="0.8"/>
<line x1="931.20" y1="534.32" x2="931.20" y2="620.00" stroke="#505050" stroke-width="0.8"/>
<line x1="946.30" y1="533.09" x2="946.30" y2="620.00" stroke="#505050" stroke-width="0.8"/>
<line x1="961.70" y1="531.83" x2="961.70" y2="620.00" stroke="#505050" stroke-width="0.8"/>
<line x1="976.80" y1="530.60" x2="976.80" y2="620.00" stroke="#505050" stroke-width="0.8"/>
<line x1="992.00" y1="529.37" x2="992.00" y2="620.00" stroke="#505050" stroke-width="0.8"/>
<line x1="1005.00" y1="538.50" x2="1005.00" y2="621.50" stroke="#777" stroke-width="0.8"/>
<line x1="1010.00" y1="525.80" x2="1010.00" y2="621.50" stroke="#505050" stroke-width="0.9"/>
<line x1="1007.70" y1="528.00" x2="1007.70" y2="538.80" stroke="#888" stroke-width="0.7"/>
<line x1="1016.20" y1="545.50" x2="1016.20" y2="621.50" stroke="#777" stroke-width="0.8"/>
<line x1="1010.00" y1="545.50" x2="1016.20" y2="545.50" stroke="#505050" stroke-width="0.8"/>
<line x1="1010.00" y1="562.50" x2="1016.20" y2="562.50" stroke="#999" stroke-width="0.8"/>
<line x1="1010.00" y1="564.50" x2="1016.20" y2="564.50" stroke="#777" stroke-width="0.8"/>
<line x1="1010.00" y1="589.50" x2="1016.20" y2="589.50" stroke="#505050" stroke-width="0.8"/>
<line x1="1010.00" y1="612.50" x2="1016.20" y2="612.50" stroke="#505050" stroke-width="0.8"/>
<line x1="738.70" y1="622.50" x2="1010.00" y2="622.50" stroke="#666" stroke-width="1.3"/>
<line x1="1010.00" y1="622.30" x2="1032.50" y2="622.30" stroke="#888" stroke-width="1.0"/>
<line x1="680.70" y1="540.80" x2="706.20" y2="540.80" stroke="#333" stroke-width="1.1"/>
<line x1="706.20" y1="540.80" x2="706.20" y2="548.00" stroke="#333" stroke-width="1.1"/>
<polyline points="704.30,544.20 706.20,548.00 708.10,544.20" fill="none" stroke="#222" stroke-width="0.9"/>
<polygon points="705.20,545.80 706.20,548.00 707.20,545.80" fill="#222" stroke="#222" stroke-width="0.6"/>
<text x="682.70" y="540.10" font-size="13" fill="#3a3a3a" text-anchor="start" textLength="24.00" lengthAdjust="spacingAndGlyphs">4,821</text>
<line x1="707.00" y1="548.00" x2="742.70" y2="548.00" stroke="#8a8a8a" stroke-width="1.0"/>
<line x1="680.70" y1="563.50" x2="706.20" y2="563.50" stroke="#333" stroke-width="1.1"/>
<line x1="706.20" y1="563.50" x2="706.20" y2="556.50" stroke="#333" stroke-width="1.1"/>
<polyline points="704.30,560.30 706.20,556.50 708.10,560.30" fill="none" stroke="#222" stroke-width="0.9"/>
<polygon points="705.20,558.70 706.20,556.50 707.20,558.70" fill="#222" stroke="#222" stroke-width="0.6"/>
<text x="681.00" y="574.10" font-size="13" fill="#3a3a3a" text-anchor="start" textLength="24.00" lengthAdjust="spacingAndGlyphs">4,268</text>
<line x1="707.00" y1="556.50" x2="769.30" y2="556.50" stroke="#8a8a8a" stroke-width="1.0"/>
<line x1="680.70" y1="616.00" x2="706.20" y2="616.00" stroke="#333" stroke-width="1.1"/>
<line x1="706.20" y1="616.00" x2="706.20" y2="623.20" stroke="#333" stroke-width="1.1"/>
<polyline points="704.30,619.40 706.20,623.20 708.10,619.40" fill="none" stroke="#222" stroke-width="0.9"/>
<polygon points="705.20,621.00 706.20,623.20 707.20,621.00" fill="#222" stroke="#222" stroke-width="0.6"/>
<text x="662.70" y="615.30" font-size="13" fill="#3a3a3a" text-anchor="start" textLength="44.00" lengthAdjust="spacingAndGlyphs">Ур. земли</text>
<line x1="662.70" y1="616.50" x2="706.20" y2="616.50" stroke="#333" stroke-width="1.1"/>
<line x1="707.00" y1="623.20" x2="734.70" y2="623.20" stroke="#8a8a8a" stroke-width="1.0"/>
<line x1="1064.50" y1="517.80" x2="1092.00" y2="517.80" stroke="#333" stroke-width="1.1"/>
<line x1="1064.50" y1="517.80" x2="1064.50" y2="525.00" stroke="#333" stroke-width="1.1"/>
<polyline points="1062.60,521.20 1064.50,525.00 1066.40,521.20" fill="none" stroke="#222" stroke-width="0.9"/>
<polygon points="1063.50,522.80 1064.50,525.00 1065.50,522.80" fill="#222" stroke="#222" stroke-width="0.6"/>
<text x="1068.00" y="517.10" font-size="13" fill="#3a3a3a" text-anchor="start" textLength="24.50" lengthAdjust="spacingAndGlyphs">6,326</text>
<line x1="1013.70" y1="525.00" x2="1064.50" y2="525.00" stroke="#8a8a8a" stroke-width="1.0"/>
<line x1="1064.50" y1="528.60" x2="1092.00" y2="528.60" stroke="#333" stroke-width="1.1"/>
<line x1="1064.50" y1="528.60" x2="1064.50" y2="535.80" stroke="#333" stroke-width="1.1"/>
<polyline points="1062.60,532.00 1064.50,535.80 1066.40,532.00" fill="none" stroke="#222" stroke-width="0.9"/>
<polygon points="1063.50,533.60 1064.50,535.80 1065.50,533.60" fill="#222" stroke="#222" stroke-width="0.6"/>
<text x="1068.00" y="527.90" font-size="13" fill="#3a3a3a" text-anchor="start" textLength="24.50" lengthAdjust="spacingAndGlyphs">5,625</text>
<line x1="1012.50" y1="535.80" x2="1064.50" y2="535.80" stroke="#8a8a8a" stroke-width="1.0"/>
<line x1="1064.50" y1="552.50" x2="1092.00" y2="552.50" stroke="#333" stroke-width="1.1"/>
<line x1="1064.50" y1="552.50" x2="1064.50" y2="545.50" stroke="#333" stroke-width="1.1"/>
<polyline points="1062.60,549.30 1064.50,545.50 1066.40,549.30" fill="none" stroke="#222" stroke-width="0.9"/>
<polygon points="1063.50,547.70 1064.50,545.50 1065.50,547.70" fill="#222" stroke="#222" stroke-width="0.6"/>
<text x="1068.00" y="563.10" font-size="13" fill="#3a3a3a" text-anchor="start" textLength="24.50" lengthAdjust="spacingAndGlyphs">5,019</text>
<line x1="1020.00" y1="545.50" x2="1064.50" y2="545.50" stroke="#8a8a8a" stroke-width="1.0"/>
<line x1="1064.50" y1="614.10" x2="1092.50" y2="614.10" stroke="#333" stroke-width="1.1"/>
<line x1="1064.50" y1="614.10" x2="1064.50" y2="621.30" stroke="#333" stroke-width="1.1"/>
<polyline points="1062.60,617.50 1064.50,621.30 1066.40,617.50" fill="none" stroke="#222" stroke-width="0.9"/>
<polygon points="1063.50,619.10 1064.50,621.30 1065.50,619.10" fill="#222" stroke="#222" stroke-width="0.6"/>
<text x="1068.00" y="613.40" font-size="13" fill="#3a3a3a" text-anchor="start" textLength="25.00" lengthAdjust="spacingAndGlyphs">0,000</text>
<line x1="1036.20" y1="621.30" x2="1064.50" y2="621.30" stroke="#8a8a8a" stroke-width="1.0"/>
<line x1="748.80" y1="623.00" x2="748.80" y2="661.00" stroke="#555" stroke-width="0.9"/>
<line x1="1007.50" y1="623.00" x2="1007.50" y2="661.00" stroke="#555" stroke-width="0.9"/>
<line x1="746.50" y1="651.40" x2="1010.00" y2="651.40" stroke="#555" stroke-width="0.9"/>
<line x1="747.00" y1="653.20" x2="750.60" y2="649.60" stroke="#333" stroke-width="1.1"/>
<line x1="1005.70" y1="653.20" x2="1009.30" y2="649.60" stroke="#333" stroke-width="1.1"/>
<text x="878.70" y="649.80" font-size="17" fill="#333" text-anchor="middle" textLength="41.50" lengthAdjust="spacingAndGlyphs">17 000</text>
<circle cx="748.80" cy="676.10" r="15.2" fill="none" stroke="#8a8a8a" stroke-width="1.0"/>
<text x="748.80" y="682.70" font-size="18.5" fill="#333" text-anchor="middle" textLength="9.00" lengthAdjust="spacingAndGlyphs">Е</text>
<circle cx="1006.80" cy="676.30" r="15.2" fill="none" stroke="#8a8a8a" stroke-width="1.0"/>
<text x="1006.80" y="682.90" font-size="18.5" fill="#333" text-anchor="middle" textLength="9.00" lengthAdjust="spacingAndGlyphs">А</text>
<line x1="660.30" y1="717.80" x2="1200.00" y2="717.80" stroke="#1a1a1a" stroke-width="1.8"/>
<line x1="660.30" y1="717.80" x2="660.30" y2="884.70" stroke="#1a1a1a" stroke-width="1.6"/>
<line x1="690.50" y1="717.80" x2="690.50" y2="795.70" stroke="#1a1a1a" stroke-width="1.4"/>
<line x1="720.90" y1="717.80" x2="720.90" y2="795.70" stroke="#1a1a1a" stroke-width="1.4"/>
<line x1="750.90" y1="717.80" x2="750.90" y2="795.70" stroke="#1a1a1a" stroke-width="1.4"/>
<line x1="781.50" y1="717.80" x2="781.50" y2="795.70" stroke="#1a1a1a" stroke-width="1.4"/>
<line x1="826.80" y1="717.80" x2="826.80" y2="795.70" stroke="#1a1a1a" stroke-width="1.4"/>
<line x1="857.00" y1="717.80" x2="857.00" y2="795.70" stroke="#1a1a1a" stroke-width="1.4"/>
<line x1="660.30" y1="733.30" x2="857.00" y2="733.30" stroke="#1a1a1a" stroke-width="1.2"/>
<line x1="660.30" y1="748.60" x2="857.00" y2="748.60" stroke="#1a1a1a" stroke-width="1.2"/>
<line x1="660.30" y1="763.90" x2="857.00" y2="763.90" stroke="#1a1a1a" stroke-width="1.2"/>
<line x1="660.30" y1="779.00" x2="857.00" y2="779.00" stroke="#1a1a1a" stroke-width="1.2"/>
<line x1="660.30" y1="795.70" x2="1200.00" y2="795.70" stroke="#1a1a1a" stroke-width="1.6"/>
<line x1="720.90" y1="795.70" x2="720.90" y2="884.70" stroke="#1a1a1a" stroke-width="1.4"/>
<line x1="781.50" y1="795.70" x2="781.50" y2="884.70" stroke="#1a1a1a" stroke-width="1.4"/>
<line x1="826.80" y1="795.70" x2="826.80" y2="884.70" stroke="#1a1a1a" stroke-width="1.4"/>
<line x1="857.00" y1="795.70" x2="857.00" y2="884.70" stroke="#1a1a1a" stroke-width="1.4"/>
<line x1="660.30" y1="808.80" x2="857.00" y2="808.80" stroke="#b0b0b0" stroke-width="1.4"/>
<line x1="660.30" y1="824.40" x2="857.00" y2="824.40" stroke="#1a1a1a" stroke-width="1.2"/>
<line x1="660.30" y1="839.40" x2="857.00" y2="839.40" stroke="#1a1a1a" stroke-width="1.4"/>
<line x1="660.30" y1="854.50" x2="857.00" y2="854.50" stroke="#1a1a1a" stroke-width="1.2"/>
<line x1="660.30" y1="869.70" x2="857.00" y2="869.70" stroke="#9a9a9a" stroke-width="1.5"/>
<line x1="857.00" y1="747.90" x2="1200.00" y2="747.90" stroke="#1a1a1a" stroke-width="1.4"/>
<line x1="857.00" y1="839.40" x2="1200.00" y2="839.40" stroke="#1a1a1a" stroke-width="1.4"/>
<line x1="1069.00" y1="795.70" x2="1069.00" y2="884.70" stroke="#1a1a1a" stroke-width="1.4"/>
<line x1="1114.20" y1="795.70" x2="1114.20" y2="839.40" stroke="#1a1a1a" stroke-width="1.4"/>
<line x1="1159.80" y1="795.70" x2="1159.80" y2="839.40" stroke="#1a1a1a" stroke-width="1.4"/>
<line x1="1069.00" y1="811.00" x2="1200.00" y2="811.00" stroke="#1a1a1a" stroke-width="1.3"/>
<text x="666.50" y="791.80" font-size="13.2" fill="#333" text-anchor="start" textLength="20.50" lengthAdjust="spacingAndGlyphs">Изм.</text>
<text x="694.50" y="791.80" font-size="13.2" fill="#333" text-anchor="start" textLength="20.50" lengthAdjust="spacingAndGlyphs">Кол.</text>
<text x="722.80" y="791.80" font-size="13.2" fill="#333" text-anchor="start" textLength="27.20" lengthAdjust="spacingAndGlyphs">Лист</text>
<text x="750.40" y="791.80" font-size="13.2" fill="#333" text-anchor="start" textLength="30.00" lengthAdjust="spacingAndGlyphs">№док</text>
<text x="791.20" y="791.80" font-size="13.2" fill="#333" text-anchor="start" textLength="27.00" lengthAdjust="spacingAndGlyphs">Подп.</text>
<text x="827.80" y="791.80" font-size="13.2" fill="#333" text-anchor="start" textLength="28.00" lengthAdjust="spacingAndGlyphs">Дата</text>
<text x="662.90" y="823.00" font-size="12.4" fill="#444" text-anchor="start" textLength="56.00" lengthAdjust="spacingAndGlyphs">Разработал</text>
<text x="723.60" y="823.00" font-size="12.4" fill="#444" text-anchor="start" textLength="36.40" lengthAdjust="spacingAndGlyphs">Дьякова</text>
<text x="830.00" y="823.00" font-size="13" fill="#444" text-anchor="start" textLength="24.50" lengthAdjust="spacingAndGlyphs">07.25</text>
<text x="662.90" y="852.90" font-size="12.4" fill="#444" text-anchor="start" textLength="41.00" lengthAdjust="spacingAndGlyphs">Н. контр.</text>
<text x="723.60" y="852.90" font-size="12.4" fill="#444" text-anchor="start" textLength="46.90" lengthAdjust="spacingAndGlyphs">Завьялова</text>
<text x="830.00" y="852.90" font-size="13" fill="#444" text-anchor="start" textLength="24.50" lengthAdjust="spacingAndGlyphs">07.25</text>
<text x="662.90" y="867.00" font-size="12.4" fill="#444" text-anchor="start" textLength="16.60" lengthAdjust="spacingAndGlyphs">ГИП</text>
<text x="724.30" y="867.00" font-size="12.4" fill="#444" text-anchor="start" textLength="46.90" lengthAdjust="spacingAndGlyphs">Завьялова</text>
<text x="830.00" y="867.00" font-size="13" fill="#444" text-anchor="start" textLength="24.50" lengthAdjust="spacingAndGlyphs">07.25</text>
<text x="1070.70" y="809.30" font-size="12.8" fill="#333" text-anchor="start" textLength="39.60" lengthAdjust="spacingAndGlyphs">Стадия</text>
<text x="1122.60" y="809.30" font-size="12.8" fill="#333" text-anchor="start" textLength="27.70" lengthAdjust="spacingAndGlyphs">Лист</text>
<text x="1168.50" y="809.30" font-size="12.8" fill="#333" text-anchor="start" textLength="41.00" lengthAdjust="spacingAndGlyphs">Листов</text>
<text x="970.00" y="857.60" font-size="13.2" fill="#3a3a3a" text-anchor="middle" textLength="130.00" lengthAdjust="spacingAndGlyphs">Фаса∂ 1–13, Фаса∂ 13–1,</text>
<text x="967.30" y="874.60" font-size="13.2" fill="#3a3a3a" text-anchor="middle" textLength="124.00" lengthAdjust="spacingAndGlyphs">Фаса∂ А–Е, Фаса∂ Е–А</text>
<path d="M786.5,822 C788,818 790,816 791.5,811 C792.5,807 793,805 793.5,805 C795,807 796,815 797,822 M788,819 C792,816 800,815 804,818 C805,820 800,822 793,822 M797,819 C799,813 800,808 801,805 C803,806 804,815 805,822 M791,823 C797,823 804,822 809,822 M795,825 C800,824.5 805,824 807,825.5 M796,827 C800,827 805,826.5 807,826.5" fill="none" stroke="#333" stroke-width="0.9"/>
<path d="M792.5,844.0 C795,842.0 798,842.5 796.5,845.5 C795,847.5 797,848.5 797.5,851.0 C797,853.5 793,854.5 792,852.5 M799,851.5 C800,848.5 802,848.5 802,851.5 C801,853.5 799,852.5 800,850.5 M803,852.5 C804,849.5 805,845.5 806,843.5 C806,849.5 806,852.5 808,851.5 C809,849.5 811,849.5 810,852.5 M810,853.5 L816,840.5 M812.5,854.5 L818.5,846.5" fill="none" stroke="#111" stroke-width="1.7"/>
<path d="M792.5,861.0 C795,859.0 798,859.5 796.5,862.5 C795,864.5 797,865.5 797.5,868.0 C797,870.5 793,871.5 792,869.5 M799,868.5 C800,865.5 802,865.5 802,868.5 C801,870.5 799,869.5 800,867.5 M803,869.5 C804,866.5 805,862.5 806,860.5 C806,866.5 806,869.5 808,868.5 C809,866.5 811,866.5 810,869.5 M810,870.5 L816,857.5 M812.5,871.5 L818.5,863.5" fill="none" stroke="#111" stroke-width="1.7"/>
<path d="M809.5,874.5 L816.5,853" stroke="#111" stroke-width="1.7"/>
<defs><linearGradient id="lg" x1="0" y1="0" x2="0" y2="1"><stop offset="0" stop-color="#1b92d6"/><stop offset="0.55" stop-color="#2456b0"/><stop offset="1" stop-color="#2a1c78"/></linearGradient></defs>
<polygon points="1096.8,849.5 1084.5,878.7 1110.2,878.7" fill="#2a1f7a"/>
<polygon points="1096.8,849.5 1086,875.5 1102.5,875.5 1099.5,862 1094.6,862 1097.3,852.5" fill="#1e8fd2"/>
<polygon points="1096.8,849.5 1090.5,862 1094.5,862 1097.3,852.5" fill="#7cc8f0"/>
<line x1="1090.02" y1="864.40" x2="1098.68" y2="864.40" stroke="#8fd0f4" stroke-width="1.1"/>
<line x1="1088.34" y1="868.40" x2="1099.19" y2="868.40" stroke="#8fd0f4" stroke-width="1.1"/>
<line x1="1086.65" y1="872.40" x2="1099.69" y2="872.40" stroke="#8fd0f4" stroke-width="1.1"/>
<line x1="1099.50" y1="862.00" x2="1103.00" y2="876.00" stroke="#ffffff" stroke-width="0.6"/>
<text x="1119.50" y="868.60" font-size="22.8" fill="url(#lg)" text-anchor="start" textLength="86.00" lengthAdjust="spacingAndGlyphs" class="logo" font-weight="bold">АЛЬЯНС</text>
<text x="1119.80" y="877.60" font-size="6.6" fill="#34328a" text-anchor="start" textLength="88.00" lengthAdjust="spacingAndGlyphs" class="logo2">строительная компания</text>
</svg></body></html>
